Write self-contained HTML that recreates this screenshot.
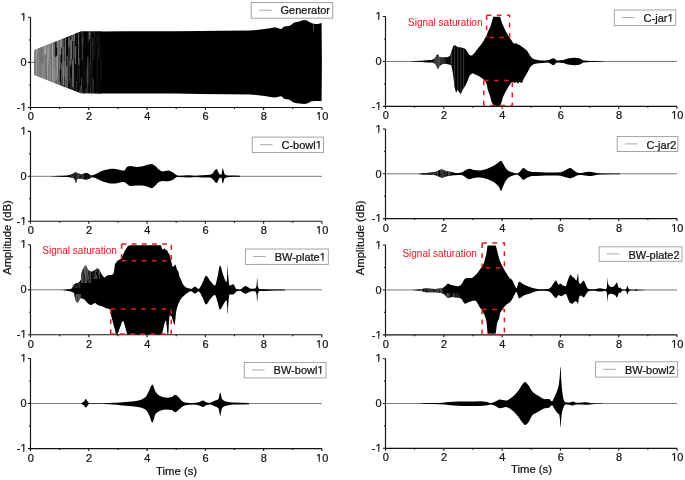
<!DOCTYPE html>
<html><head><meta charset="utf-8"><style>
html,body{margin:0;padding:0;background:#fff;width:685px;height:480px;overflow:hidden}
svg{display:block;will-change:transform}
text{font-family:"Liberation Sans", sans-serif}
</style></head><body>
<svg width="685" height="480" viewBox="0 0 685 480" font-family='"Liberation Sans", sans-serif'>
<defs>
<linearGradient id="gg" gradientUnits="userSpaceOnUse" x1="34" y1="0" x2="100" y2="0">
<stop offset="0" stop-color="#9a9a9a"/><stop offset="0.1" stop-color="#7c7c7c"/><stop offset="0.45" stop-color="#6a6a6a"/>
<stop offset="0.62" stop-color="#4a4a4a"/><stop offset="0.72" stop-color="#1c1c1c"/><stop offset="0.85" stop-color="#080808"/><stop offset="1" stop-color="#000"/>
</linearGradient>
<clipPath id="nofoot"><path clip-rule="evenodd" d="M-10 -10H700V500H-10Z M20.03 19.18H23.22V22H20.03Z M24.23 19.18H26.78V22H24.23Z M20.03 109.38H23.22V112.2H20.03Z M24.23 109.38H26.78V112.2H24.23Z M315.63 118.58H318.82V121.4H315.63Z M319.83 118.58H322.38V121.4H319.83Z M20.03 133.28H23.22V136.1H20.03Z M24.23 133.28H26.78V136.1H24.23Z M20.03 223.13H23.22V225.95H20.03Z M24.23 223.13H26.78V225.95H24.23Z M315.63 232.33H318.82V235.15H315.63Z M319.83 232.33H322.38V235.15H319.83Z M20.03 246.63H23.22V249.45H20.03Z M24.23 246.63H26.78V249.45H24.23Z M20.03 336.63H23.22V339.45H20.03Z M24.23 336.63H26.78V339.45H24.23Z M315.63 345.83H318.82V348.65H315.63Z M319.83 345.83H322.38V348.65H319.83Z M20.03 360.38H23.22V363.2H20.03Z M24.23 360.38H26.78V363.2H24.23Z M20.03 450.48H23.22V453.3H20.03Z M24.23 450.48H26.78V453.3H24.23Z M315.63 459.68H318.82V462.5H315.63Z M319.83 459.68H322.38V462.5H319.83Z M375.03 18.38H378.22V21.2H375.03Z M379.23 18.38H381.78V21.2H379.23Z M375.03 108.28H378.22V111.1H375.03Z M379.23 108.28H381.78V111.1H379.23Z M670.72 117.48H673.92V120.3H670.72Z M674.93 117.48H677.48V120.3H674.93Z M375.03 130.88H378.22V133.7H375.03Z M379.23 130.88H381.78V133.7H379.23Z M375.03 220.48H378.22V223.3H375.03Z M379.23 220.48H381.78V223.3H379.23Z M670.72 229.68H673.92V232.5H670.72Z M674.93 229.68H677.48V232.5H674.93Z M375.03 246.88H378.22V249.7H375.03Z M379.23 246.88H381.78V249.7H379.23Z M375.03 336.78H378.22V339.6H375.03Z M379.23 336.78H381.78V339.6H379.23Z M670.72 345.98H673.92V348.8H670.72Z M674.93 345.98H677.48V348.8H674.93Z M375.03 360.58H378.22V363.4H375.03Z M379.23 360.58H381.78V363.4H379.23Z M375.03 450.18H378.22V453H375.03Z M379.23 450.18H381.78V453H379.23Z M670.72 459.38H673.92V462.2H670.72Z M674.93 459.38H677.48V462.2H674.93Z M315.27 147.18H318.46V150H315.27Z M319.48 147.18H322.02V150H319.48Z M319.28 259.08H322.48V261.9H319.28Z M323.49 259.08H326.03V261.9H323.49Z M316.95 372.48H320.14V375.3H316.95Z M321.16 372.48H323.7V375.3H321.16Z M666.98 20.08H670.17V22.9H666.98Z M671.19 20.08H673.73V22.9H671.19Z"/></clipPath>
</defs>
<rect width="685" height="480" fill="#fff"/>
<path d="M30.5 17.3 V107.5 H321.9" fill="none" stroke="#111" stroke-width="1.15"/>
<path d="M27.9 17.3 H30.5 M29.1 39.85 H30.5 M27.9 62.4 H30.5 M29.1 84.95 H30.5 M27.9 107.5 H30.5 M30.5 107.5 V109.9 M59.64 107.5 V108.9 M88.78 107.5 V109.9 M117.92 107.5 V108.9 M147.06 107.5 V109.9 M176.2 107.5 V108.9 M205.34 107.5 V109.9 M234.48 107.5 V108.9 M263.62 107.5 V109.9 M292.76 107.5 V108.9 M321.9 107.5 V109.9 " fill="none" stroke="#111" stroke-width="1.1"/>
<g font-size="11" fill="#111" stroke="#111" stroke-width="0.22"><text data-one="1" clip-path="url(#nofoot)" x="26.6" y="21" text-anchor="end">1</text><text x="26.6" y="66.1" text-anchor="end">0</text><text data-one="2" clip-path="url(#nofoot)" x="26.6" y="111.2" text-anchor="end">-1</text><text x="30.8" y="120.4" text-anchor="middle">0</text><text x="89.08" y="120.4" text-anchor="middle">2</text><text x="147.36" y="120.4" text-anchor="middle">4</text><text x="205.64" y="120.4" text-anchor="middle">6</text><text x="263.92" y="120.4" text-anchor="middle">8</text><text data-one="3" clip-path="url(#nofoot)" x="322.2" y="120.4" text-anchor="middle">10</text></g>
<path d="M31.1 62.4 H321.9" stroke="#6a6a6a" stroke-width="0.9"/>
<path d="M30.5 131.4 V221.25 H321.9" fill="none" stroke="#111" stroke-width="1.15"/>
<path d="M27.9 131.4 H30.5 M29.1 153.86 H30.5 M27.9 176.32 H30.5 M29.1 198.79 H30.5 M27.9 221.25 H30.5 M30.5 221.25 V223.65 M59.64 221.25 V222.65 M88.78 221.25 V223.65 M117.92 221.25 V222.65 M147.06 221.25 V223.65 M176.2 221.25 V222.65 M205.34 221.25 V223.65 M234.48 221.25 V222.65 M263.62 221.25 V223.65 M292.76 221.25 V222.65 M321.9 221.25 V223.65 " fill="none" stroke="#111" stroke-width="1.1"/>
<g font-size="11" fill="#111" stroke="#111" stroke-width="0.22"><text data-one="4" clip-path="url(#nofoot)" x="26.6" y="135.1" text-anchor="end">1</text><text x="26.6" y="180.02" text-anchor="end">0</text><text data-one="5" clip-path="url(#nofoot)" x="26.6" y="224.95" text-anchor="end">-1</text><text x="30.8" y="234.15" text-anchor="middle">0</text><text x="89.08" y="234.15" text-anchor="middle">2</text><text x="147.36" y="234.15" text-anchor="middle">4</text><text x="205.64" y="234.15" text-anchor="middle">6</text><text x="263.92" y="234.15" text-anchor="middle">8</text><text data-one="6" clip-path="url(#nofoot)" x="322.2" y="234.15" text-anchor="middle">10</text></g>
<path d="M31.1 176.32 H321.9" stroke="#6a6a6a" stroke-width="0.9"/>
<path d="M30.5 244.75 V334.75 H321.9" fill="none" stroke="#111" stroke-width="1.15"/>
<path d="M27.9 244.75 H30.5 M29.1 267.25 H30.5 M27.9 289.75 H30.5 M29.1 312.25 H30.5 M27.9 334.75 H30.5 M30.5 334.75 V337.15 M59.64 334.75 V336.15 M88.78 334.75 V337.15 M117.92 334.75 V336.15 M147.06 334.75 V337.15 M176.2 334.75 V336.15 M205.34 334.75 V337.15 M234.48 334.75 V336.15 M263.62 334.75 V337.15 M292.76 334.75 V336.15 M321.9 334.75 V337.15 " fill="none" stroke="#111" stroke-width="1.1"/>
<g font-size="11" fill="#111" stroke="#111" stroke-width="0.22"><text data-one="7" clip-path="url(#nofoot)" x="26.6" y="248.45" text-anchor="end">1</text><text x="26.6" y="293.45" text-anchor="end">0</text><text data-one="8" clip-path="url(#nofoot)" x="26.6" y="338.45" text-anchor="end">-1</text><text x="30.8" y="347.65" text-anchor="middle">0</text><text x="89.08" y="347.65" text-anchor="middle">2</text><text x="147.36" y="347.65" text-anchor="middle">4</text><text x="205.64" y="347.65" text-anchor="middle">6</text><text x="263.92" y="347.65" text-anchor="middle">8</text><text data-one="9" clip-path="url(#nofoot)" x="322.2" y="347.65" text-anchor="middle">10</text></g>
<path d="M31.1 289.75 H321.9" stroke="#6a6a6a" stroke-width="0.9"/>
<path d="M30.5 358.5 V448.6 H321.9" fill="none" stroke="#111" stroke-width="1.15"/>
<path d="M27.9 358.5 H30.5 M29.1 381.02 H30.5 M27.9 403.55 H30.5 M29.1 426.08 H30.5 M27.9 448.6 H30.5 M30.5 448.6 V451 M59.64 448.6 V450 M88.78 448.6 V451 M117.92 448.6 V450 M147.06 448.6 V451 M176.2 448.6 V450 M205.34 448.6 V451 M234.48 448.6 V450 M263.62 448.6 V451 M292.76 448.6 V450 M321.9 448.6 V451 " fill="none" stroke="#111" stroke-width="1.1"/>
<g font-size="11" fill="#111" stroke="#111" stroke-width="0.22"><text data-one="10" clip-path="url(#nofoot)" x="26.6" y="362.2" text-anchor="end">1</text><text x="26.6" y="407.25" text-anchor="end">0</text><text data-one="11" clip-path="url(#nofoot)" x="26.6" y="452.3" text-anchor="end">-1</text><text x="30.8" y="461.5" text-anchor="middle">0</text><text x="89.08" y="461.5" text-anchor="middle">2</text><text x="147.36" y="461.5" text-anchor="middle">4</text><text x="205.64" y="461.5" text-anchor="middle">6</text><text x="263.92" y="461.5" text-anchor="middle">8</text><text data-one="12" clip-path="url(#nofoot)" x="322.2" y="461.5" text-anchor="middle">10</text></g>
<path d="M31.1 403.55 H321.9" stroke="#6a6a6a" stroke-width="0.9"/>
<path d="M385.5 16.5 V106.4 H677" fill="none" stroke="#111" stroke-width="1.15"/>
<path d="M382.9 16.5 H385.5 M384.1 38.98 H385.5 M382.9 61.45 H385.5 M384.1 83.93 H385.5 M382.9 106.4 H385.5 M385.5 106.4 V108.8 M414.65 106.4 V107.8 M443.8 106.4 V108.8 M472.95 106.4 V107.8 M502.1 106.4 V108.8 M531.25 106.4 V107.8 M560.4 106.4 V108.8 M589.55 106.4 V107.8 M618.7 106.4 V108.8 M647.85 106.4 V107.8 M677 106.4 V108.8 " fill="none" stroke="#111" stroke-width="1.1"/>
<g font-size="11" fill="#111" stroke="#111" stroke-width="0.22"><text data-one="13" clip-path="url(#nofoot)" x="381.6" y="20.2" text-anchor="end">1</text><text x="381.6" y="65.15" text-anchor="end">0</text><text data-one="14" clip-path="url(#nofoot)" x="381.6" y="110.1" text-anchor="end">-1</text><text x="385.8" y="119.3" text-anchor="middle">0</text><text x="444.1" y="119.3" text-anchor="middle">2</text><text x="502.4" y="119.3" text-anchor="middle">4</text><text x="560.7" y="119.3" text-anchor="middle">6</text><text x="619" y="119.3" text-anchor="middle">8</text><text data-one="15" clip-path="url(#nofoot)" x="677.3" y="119.3" text-anchor="middle">10</text></g>
<path d="M386.1 61.45 H677" stroke="#6a6a6a" stroke-width="0.9"/>
<path d="M385.5 129 V218.6 H677" fill="none" stroke="#111" stroke-width="1.15"/>
<path d="M382.9 129 H385.5 M384.1 151.4 H385.5 M382.9 173.8 H385.5 M384.1 196.2 H385.5 M382.9 218.6 H385.5 M385.5 218.6 V221 M414.65 218.6 V220 M443.8 218.6 V221 M472.95 218.6 V220 M502.1 218.6 V221 M531.25 218.6 V220 M560.4 218.6 V221 M589.55 218.6 V220 M618.7 218.6 V221 M647.85 218.6 V220 M677 218.6 V221 " fill="none" stroke="#111" stroke-width="1.1"/>
<g font-size="11" fill="#111" stroke="#111" stroke-width="0.22"><text data-one="16" clip-path="url(#nofoot)" x="381.6" y="132.7" text-anchor="end">1</text><text x="381.6" y="177.5" text-anchor="end">0</text><text data-one="17" clip-path="url(#nofoot)" x="381.6" y="222.3" text-anchor="end">-1</text><text x="385.8" y="231.5" text-anchor="middle">0</text><text x="444.1" y="231.5" text-anchor="middle">2</text><text x="502.4" y="231.5" text-anchor="middle">4</text><text x="560.7" y="231.5" text-anchor="middle">6</text><text x="619" y="231.5" text-anchor="middle">8</text><text data-one="18" clip-path="url(#nofoot)" x="677.3" y="231.5" text-anchor="middle">10</text></g>
<path d="M386.1 173.8 H677" stroke="#6a6a6a" stroke-width="0.9"/>
<path d="M385.5 245 V334.9 H677" fill="none" stroke="#111" stroke-width="1.15"/>
<path d="M382.9 245 H385.5 M384.1 267.48 H385.5 M382.9 289.95 H385.5 M384.1 312.42 H385.5 M382.9 334.9 H385.5 M385.5 334.9 V337.3 M414.65 334.9 V336.3 M443.8 334.9 V337.3 M472.95 334.9 V336.3 M502.1 334.9 V337.3 M531.25 334.9 V336.3 M560.4 334.9 V337.3 M589.55 334.9 V336.3 M618.7 334.9 V337.3 M647.85 334.9 V336.3 M677 334.9 V337.3 " fill="none" stroke="#111" stroke-width="1.1"/>
<g font-size="11" fill="#111" stroke="#111" stroke-width="0.22"><text data-one="19" clip-path="url(#nofoot)" x="381.6" y="248.7" text-anchor="end">1</text><text x="381.6" y="293.65" text-anchor="end">0</text><text data-one="20" clip-path="url(#nofoot)" x="381.6" y="338.6" text-anchor="end">-1</text><text x="385.8" y="347.8" text-anchor="middle">0</text><text x="444.1" y="347.8" text-anchor="middle">2</text><text x="502.4" y="347.8" text-anchor="middle">4</text><text x="560.7" y="347.8" text-anchor="middle">6</text><text x="619" y="347.8" text-anchor="middle">8</text><text data-one="21" clip-path="url(#nofoot)" x="677.3" y="347.8" text-anchor="middle">10</text></g>
<path d="M386.1 289.95 H677" stroke="#6a6a6a" stroke-width="0.9"/>
<path d="M385.5 358.7 V448.3 H677" fill="none" stroke="#111" stroke-width="1.15"/>
<path d="M382.9 358.7 H385.5 M384.1 381.1 H385.5 M382.9 403.5 H385.5 M384.1 425.9 H385.5 M382.9 448.3 H385.5 M385.5 448.3 V450.7 M414.65 448.3 V449.7 M443.8 448.3 V450.7 M472.95 448.3 V449.7 M502.1 448.3 V450.7 M531.25 448.3 V449.7 M560.4 448.3 V450.7 M589.55 448.3 V449.7 M618.7 448.3 V450.7 M647.85 448.3 V449.7 M677 448.3 V450.7 " fill="none" stroke="#111" stroke-width="1.1"/>
<g font-size="11" fill="#111" stroke="#111" stroke-width="0.22"><text data-one="22" clip-path="url(#nofoot)" x="381.6" y="362.4" text-anchor="end">1</text><text x="381.6" y="407.2" text-anchor="end">0</text><text data-one="23" clip-path="url(#nofoot)" x="381.6" y="452" text-anchor="end">-1</text><text x="385.8" y="461.2" text-anchor="middle">0</text><text x="444.1" y="461.2" text-anchor="middle">2</text><text x="502.4" y="461.2" text-anchor="middle">4</text><text x="560.7" y="461.2" text-anchor="middle">6</text><text x="619" y="461.2" text-anchor="middle">8</text><text data-one="24" clip-path="url(#nofoot)" x="677.3" y="461.2" text-anchor="middle">10</text></g>
<path d="M386.1 403.5 H677" stroke="#6a6a6a" stroke-width="0.9"/>
<clipPath id="gc"><path d="M34.3 50.6 C34.43 50.4 34.57 50.2 34.7 50 C50.17 43.87 65.63 37.73 81.1 31.6 C87.4 31.53 93.7 31.44 100 31.4 C116.67 31.3 133.33 31.28 150 31.2 C166.67 31.12 183.33 31.02 200 30.9 C216.67 30.77 233.33 30.76 250 30.4 C254.17 30.31 258.33 29.65 262.5 29.2 C265 28.93 267.5 28.7 270 28.3 C271.63 28.04 273.27 27.2 274.9 27.2 C276.1 27.2 277.3 27.87 278.5 28.2 C279.33 28.43 280.17 28.9 281 28.9 C282.1 28.9 283.2 26.54 284.3 26.4 C285.8 26.21 287.3 26.27 288.8 26.1 C290.7 25.88 292.6 23.26 294.5 22.6 C296.13 22.03 297.77 21.82 299.4 21.4 C301.03 20.98 302.67 20.1 304.3 20.1 C305.13 20.1 305.97 20.35 306.8 20.6 C307.33 20.76 307.87 21.12 308.4 21.4 C309.23 21.84 310.07 22.43 310.9 22.8 C311.43 23.04 311.97 23.28 312.5 23.4 C313.6 23.65 314.7 23.81 315.8 23.9 C316.33 23.95 316.87 24 317.4 24 C318.8 24 320.2 23.33 321.6 23 C321.7 36 321.8 49 321.9 62 L321.9 63 C321.8 75.7 321.7 88.4 321.6 101.1 C320.2 101.07 318.8 101.05 317.4 101 C316.87 100.98 316.33 100.9 315.8 100.9 C314.7 100.9 313.6 101.06 312.5 101.2 C311.97 101.27 311.43 101.35 310.9 101.5 C310.07 101.73 309.23 102.62 308.4 103 C307.87 103.24 307.33 103.48 306.8 103.6 C305.97 103.79 305.13 104 304.3 104 C302.67 104 301.03 103.78 299.4 103.6 C297.77 103.42 296.13 103.21 294.5 102.8 C292.6 102.32 290.7 100.01 288.8 99.5 C287.3 99.1 285.8 99.15 284.3 98.7 C283.2 98.37 282.1 96.2 281 96.2 C280.17 96.2 279.33 96.63 278.5 96.8 C277.3 97.04 276.1 97.4 274.9 97.4 C273.27 97.4 271.63 97.17 270 97 C267.5 96.74 265 96.11 262.5 95.8 C258.33 95.29 254.17 94.72 250 94.6 C233.33 94.12 216.67 94.04 200 93.9 C183.33 93.76 166.67 93.65 150 93.6 C133.33 93.55 116.67 93.56 100 93.5 C93.7 93.48 87.4 93.37 81.1 93.3 C65.63 87.2 50.17 81.1 34.7 75 C34.57 74.8 34.43 74.6 34.3 74.4 Z"/></clipPath>
<path d="M34.3 50.6 C34.43 50.4 34.57 50.2 34.7 50 C50.17 43.87 65.63 37.73 81.1 31.6 C87.4 31.53 93.7 31.44 100 31.4 C116.67 31.3 133.33 31.28 150 31.2 C166.67 31.12 183.33 31.02 200 30.9 C216.67 30.77 233.33 30.76 250 30.4 C254.17 30.31 258.33 29.65 262.5 29.2 C265 28.93 267.5 28.7 270 28.3 C271.63 28.04 273.27 27.2 274.9 27.2 C276.1 27.2 277.3 27.87 278.5 28.2 C279.33 28.43 280.17 28.9 281 28.9 C282.1 28.9 283.2 26.54 284.3 26.4 C285.8 26.21 287.3 26.27 288.8 26.1 C290.7 25.88 292.6 23.26 294.5 22.6 C296.13 22.03 297.77 21.82 299.4 21.4 C301.03 20.98 302.67 20.1 304.3 20.1 C305.13 20.1 305.97 20.35 306.8 20.6 C307.33 20.76 307.87 21.12 308.4 21.4 C309.23 21.84 310.07 22.43 310.9 22.8 C311.43 23.04 311.97 23.28 312.5 23.4 C313.6 23.65 314.7 23.81 315.8 23.9 C316.33 23.95 316.87 24 317.4 24 C318.8 24 320.2 23.33 321.6 23 C321.7 36 321.8 49 321.9 62 L321.9 63 C321.8 75.7 321.7 88.4 321.6 101.1 C320.2 101.07 318.8 101.05 317.4 101 C316.87 100.98 316.33 100.9 315.8 100.9 C314.7 100.9 313.6 101.06 312.5 101.2 C311.97 101.27 311.43 101.35 310.9 101.5 C310.07 101.73 309.23 102.62 308.4 103 C307.87 103.24 307.33 103.48 306.8 103.6 C305.97 103.79 305.13 104 304.3 104 C302.67 104 301.03 103.78 299.4 103.6 C297.77 103.42 296.13 103.21 294.5 102.8 C292.6 102.32 290.7 100.01 288.8 99.5 C287.3 99.1 285.8 99.15 284.3 98.7 C283.2 98.37 282.1 96.2 281 96.2 C280.17 96.2 279.33 96.63 278.5 96.8 C277.3 97.04 276.1 97.4 274.9 97.4 C273.27 97.4 271.63 97.17 270 97 C267.5 96.74 265 96.11 262.5 95.8 C258.33 95.29 254.17 94.72 250 94.6 C233.33 94.12 216.67 94.04 200 93.9 C183.33 93.76 166.67 93.65 150 93.6 C133.33 93.55 116.67 93.56 100 93.5 C93.7 93.48 87.4 93.37 81.1 93.3 C65.63 87.2 50.17 81.1 34.7 75 C34.57 74.8 34.43 74.6 34.3 74.4 Z" fill="#000" />
<g clip-path="url(#gc)"><rect x="34.3" y="15" width="0.85" height="32.22" fill="#c8c8c8"/><rect x="34.3" y="47.17" width="0.85" height="13.2" fill="#b7b7b7"/><rect x="34.3" y="60.32" width="0.85" height="16.51" fill="#9e9e9e"/><rect x="34.3" y="76.77" width="0.85" height="33.28" fill="#acacac"/><rect x="35.1" y="15" width="1.05" height="18" fill="#bababa"/><rect x="35.1" y="32.95" width="1.05" height="30.15" fill="#929292"/><rect x="35.1" y="63.05" width="1.05" height="28.16" fill="#919191"/><rect x="35.1" y="91.16" width="1.05" height="18.89" fill="#b4b4b4"/><rect x="36.1" y="15" width="1.05" height="19.36" fill="#c5c5c5"/><rect x="36.1" y="34.31" width="1.05" height="21.63" fill="#b5b5b5"/><rect x="36.1" y="55.88" width="1.05" height="25.1" fill="#a6a6a6"/><rect x="36.1" y="80.94" width="1.05" height="29.11" fill="#919191"/><rect x="37.1" y="15" width="0.65" height="24.99" fill="#ababab"/><rect x="37.1" y="39.94" width="0.65" height="22.61" fill="#a4a4a4"/><rect x="37.1" y="62.51" width="0.65" height="25.98" fill="#979797"/><rect x="37.1" y="88.44" width="0.65" height="21.61" fill="#919191"/><rect x="37.7" y="15" width="1.05" height="31.05" fill="#c8c8c8"/><rect x="37.7" y="46" width="1.05" height="19.72" fill="#a7a7a7"/><rect x="37.7" y="65.67" width="1.05" height="14.99" fill="#959595"/><rect x="37.7" y="80.61" width="1.05" height="29.44" fill="#8d8d8d"/><rect x="38.7" y="15" width="0.85" height="22.49" fill="#c1c1c1"/><rect x="38.7" y="37.44" width="0.85" height="22.21" fill="#8f8f8f"/><rect x="38.7" y="59.6" width="0.85" height="24.39" fill="#bababa"/><rect x="38.7" y="83.95" width="0.85" height="26.1" fill="#bcbcbc"/><rect x="39.5" y="15" width="1.05" height="21.6" fill="#898989"/><rect x="39.5" y="36.55" width="1.05" height="23.67" fill="#949494"/><rect x="39.5" y="60.17" width="1.05" height="26.58" fill="#8c8c8c"/><rect x="39.5" y="86.7" width="1.05" height="23.35" fill="#919191"/><rect x="40.5" y="15" width="1.05" height="31.72" fill="#a3a3a3"/><rect x="40.5" y="46.67" width="1.05" height="15.33" fill="#909090"/><rect x="40.5" y="61.94" width="1.05" height="16.77" fill="#adadad"/><rect x="40.5" y="78.66" width="1.05" height="31.39" fill="#c8c8c8"/><rect x="41.5" y="15" width="1.05" height="32.37" fill="#959595"/><rect x="41.5" y="47.32" width="1.05" height="9.14" fill="#a7a7a7"/><rect x="41.5" y="56.41" width="1.05" height="22.45" fill="#989898"/><rect x="41.5" y="78.82" width="1.05" height="31.23" fill="#a2a2a2"/><rect x="42.5" y="15" width="0.85" height="32.3" fill="#afafaf"/><rect x="42.5" y="47.25" width="0.85" height="17.85" fill="#878787"/><rect x="42.5" y="65.05" width="0.85" height="19.25" fill="#bababa"/><rect x="42.5" y="84.25" width="0.85" height="25.8" fill="#bcbcbc"/><rect x="43.3" y="15" width="1.05" height="23.36" fill="#909090"/><rect x="43.3" y="38.31" width="1.05" height="23.45" fill="#a1a1a1"/><rect x="43.3" y="61.7" width="1.05" height="20.75" fill="#acacac"/><rect x="43.3" y="82.41" width="1.05" height="27.64" fill="#aaaaaa"/><rect x="44.3" y="15" width="0.85" height="26.87" fill="#9b9b9b"/><rect x="44.3" y="41.82" width="0.85" height="13.36" fill="#c4c4c4"/><rect x="44.3" y="55.13" width="0.85" height="24.25" fill="#a2a2a2"/><rect x="44.3" y="79.33" width="0.85" height="30.72" fill="#a3a3a3"/><rect x="45.1" y="15" width="1.05" height="24.79" fill="#979797"/><rect x="45.1" y="39.74" width="1.05" height="15.68" fill="#b9b9b9"/><rect x="45.1" y="55.37" width="1.05" height="22.31" fill="#818181"/><rect x="45.1" y="77.64" width="1.05" height="32.41" fill="#a4a4a4"/><rect x="46.1" y="15" width="0.55" height="29.18" fill="#848484"/><rect x="46.1" y="44.13" width="0.55" height="14.69" fill="#a2a2a2"/><rect x="46.1" y="58.77" width="0.55" height="27.57" fill="#979797"/><rect x="46.1" y="86.29" width="0.55" height="23.76" fill="#a4a4a4"/><rect x="46.6" y="15" width="0.65" height="26.86" fill="#8b8b8b"/><rect x="46.6" y="41.81" width="0.65" height="24.85" fill="#999999"/><rect x="46.6" y="66.61" width="0.65" height="21.57" fill="#8b8b8b"/><rect x="46.6" y="88.13" width="0.65" height="21.92" fill="#b0b0b0"/><rect x="47.2" y="15" width="0.85" height="24.61" fill="#949494"/><rect x="47.2" y="39.56" width="0.85" height="17.59" fill="#afafaf"/><rect x="47.2" y="57.1" width="0.85" height="28.63" fill="#c0c0c0"/><rect x="47.2" y="85.68" width="0.85" height="24.37" fill="#838383"/><rect x="48" y="15" width="0.85" height="20.32" fill="#b6b6b6"/><rect x="48" y="35.27" width="0.85" height="28.77" fill="#a8a8a8"/><rect x="48" y="63.99" width="0.85" height="26.47" fill="#818181"/><rect x="48" y="90.4" width="0.85" height="19.65" fill="#bababa"/><rect x="48.8" y="15" width="0.65" height="24.7" fill="#919191"/><rect x="48.8" y="39.65" width="0.65" height="17.26" fill="#bdbdbd"/><rect x="48.8" y="56.86" width="0.65" height="31.82" fill="#969696"/><rect x="48.8" y="88.63" width="0.65" height="21.42" fill="#acacac"/><rect x="49.4" y="15" width="0.65" height="17.49" fill="#a6a6a6"/><rect x="49.4" y="32.44" width="0.65" height="31.06" fill="#a2a2a2"/><rect x="49.4" y="63.45" width="0.65" height="20.04" fill="#bababa"/><rect x="49.4" y="83.45" width="0.65" height="26.6" fill="#9f9f9f"/><rect x="50" y="15" width="0.55" height="25.48" fill="#b5b5b5"/><rect x="50" y="40.43" width="0.55" height="28.56" fill="#868686"/><rect x="50" y="68.94" width="0.55" height="14.05" fill="#8c8c8c"/><rect x="50" y="82.94" width="0.55" height="27.11" fill="#a1a1a1"/><rect x="50.5" y="15" width="1.05" height="30.4" fill="#b6b6b6"/><rect x="50.5" y="45.35" width="1.05" height="9.68" fill="#b0b0b0"/><rect x="50.5" y="54.97" width="1.05" height="32.91" fill="#b1b1b1"/><rect x="50.5" y="87.84" width="1.05" height="22.21" fill="#808080"/><rect x="51.5" y="15" width="0.55" height="31.01" fill="#acacac"/><rect x="51.5" y="45.96" width="0.55" height="20.51" fill="#7f7f7f"/><rect x="51.5" y="66.42" width="0.55" height="19.36" fill="#7e7e7e"/><rect x="51.5" y="85.74" width="0.55" height="24.31" fill="#a5a5a5"/><rect x="52" y="15" width="1.05" height="29.6" fill="#868686"/><rect x="52" y="44.55" width="1.05" height="11.2" fill="#ababab"/><rect x="52" y="55.7" width="1.05" height="29.32" fill="#9c9c9c"/><rect x="52" y="84.96" width="1.05" height="25.09" fill="#b4b4b4"/><rect x="53" y="15" width="0.65" height="28.13" fill="#949494"/><rect x="53" y="43.08" width="0.65" height="18.2" fill="#a4a4a4"/><rect x="53" y="61.24" width="0.65" height="23.35" fill="#b5b5b5"/><rect x="53" y="84.53" width="0.65" height="25.52" fill="#9a9a9a"/><rect x="53.6" y="15" width="1.05" height="19.24" fill="#777777"/><rect x="53.6" y="34.19" width="1.05" height="21.8" fill="#777777"/><rect x="53.6" y="55.95" width="1.05" height="27.18" fill="#a9a9a9"/><rect x="53.6" y="83.07" width="1.05" height="26.98" fill="#7d7d7d"/><rect x="54.6" y="15" width="0.85" height="19.34" fill="#808080"/><rect x="54.6" y="34.29" width="0.85" height="33.89" fill="#8c8c8c"/><rect x="54.6" y="68.13" width="0.85" height="23.41" fill="#b6b6b6"/><rect x="54.6" y="91.48" width="0.85" height="18.57" fill="#7c7c7c"/><rect x="55.4" y="15" width="1.05" height="22.48" fill="#0d0d0d"/><rect x="55.4" y="37.43" width="1.05" height="19.76" fill="#080808"/><rect x="55.4" y="57.13" width="1.05" height="24.01" fill="#9b9b9b"/><rect x="55.4" y="81.1" width="1.05" height="28.95" fill="#747474"/><rect x="56.4" y="15" width="0.65" height="32.6" fill="#717171"/><rect x="56.4" y="47.55" width="0.65" height="8.18" fill="#0a0a0a"/><rect x="56.4" y="55.68" width="0.65" height="24.62" fill="#aeaeae"/><rect x="56.4" y="80.25" width="0.65" height="29.8" fill="#808080"/><rect x="57" y="15" width="1.05" height="28.26" fill="#9d9d9d"/><rect x="57" y="43.21" width="1.05" height="12.27" fill="#727272"/><rect x="57" y="55.43" width="1.05" height="21.54" fill="#999999"/><rect x="57" y="76.92" width="1.05" height="33.13" fill="#737373"/><rect x="58" y="15" width="0.55" height="21.28" fill="#b1b1b1"/><rect x="58" y="36.23" width="0.55" height="19.77" fill="#acacac"/><rect x="58" y="55.95" width="0.55" height="20.29" fill="#6f6f6f"/><rect x="58" y="76.18" width="0.55" height="33.87" fill="#adadad"/><rect x="58.5" y="15" width="0.85" height="17.86" fill="#808080"/><rect x="58.5" y="32.81" width="0.85" height="24.47" fill="#7f7f7f"/><rect x="58.5" y="57.23" width="0.85" height="23.81" fill="#777777"/><rect x="58.5" y="80.99" width="0.85" height="29.06" fill="#6c6c6c"/><rect x="59.3" y="15" width="0.55" height="17.34" fill="#8e8e8e"/><rect x="59.3" y="32.29" width="0.55" height="29.85" fill="#898989"/><rect x="59.3" y="62.09" width="0.55" height="29.61" fill="#979797"/><rect x="59.3" y="91.65" width="0.55" height="18.4" fill="#909090"/><rect x="59.8" y="15" width="0.85" height="28.05" fill="#a3a3a3"/><rect x="59.8" y="43" width="0.85" height="26.77" fill="#959595"/><rect x="59.8" y="69.72" width="0.85" height="11.81" fill="#030303"/><rect x="59.8" y="81.48" width="0.85" height="28.57" fill="#6e6e6e"/><rect x="60.6" y="15" width="0.85" height="23.94" fill="#828282"/><rect x="60.6" y="38.89" width="0.85" height="16.04" fill="#ababab"/><rect x="60.6" y="54.89" width="0.85" height="31.81" fill="#040404"/><rect x="60.6" y="86.64" width="0.85" height="23.41" fill="#090909"/><rect x="61.4" y="15" width="0.85" height="32.61" fill="#a9a9a9"/><rect x="61.4" y="47.56" width="0.85" height="15.24" fill="#090909"/><rect x="61.4" y="62.75" width="0.85" height="17.21" fill="#878787"/><rect x="61.4" y="79.91" width="0.85" height="30.14" fill="#747474"/><rect x="62.2" y="15" width="0.55" height="18.5" fill="#8d8d8d"/><rect x="62.2" y="33.45" width="0.55" height="33.67" fill="#797979"/><rect x="62.2" y="67.07" width="0.55" height="11.28" fill="#6a6a6a"/><rect x="62.2" y="78.3" width="0.55" height="31.75" fill="#161616"/><rect x="62.7" y="15" width="1.05" height="29.28" fill="#777777"/><rect x="62.7" y="44.23" width="1.05" height="21.35" fill="#6e6e6e"/><rect x="62.7" y="65.53" width="1.05" height="18.43" fill="#959595"/><rect x="62.7" y="83.91" width="1.05" height="26.14" fill="#818181"/><rect x="63.7" y="15" width="0.65" height="31.61" fill="#111111"/><rect x="63.7" y="46.56" width="0.65" height="19.54" fill="#999999"/><rect x="63.7" y="66.05" width="0.65" height="19.1" fill="#a4a4a4"/><rect x="63.7" y="85.1" width="0.65" height="24.95" fill="#0f0f0f"/><rect x="64.3" y="15" width="0.55" height="23.08" fill="#626262"/><rect x="64.3" y="38.03" width="0.55" height="23.25" fill="#0b0b0b"/><rect x="64.3" y="61.22" width="0.55" height="15.64" fill="#656565"/><rect x="64.3" y="76.81" width="0.55" height="33.24" fill="#0d0d0d"/><rect x="64.8" y="15" width="1.05" height="21.09" fill="#121212"/><rect x="64.8" y="36.04" width="1.05" height="19.21" fill="#a4a4a4"/><rect x="64.8" y="55.19" width="1.05" height="25.11" fill="#7a7a7a"/><rect x="64.8" y="80.25" width="1.05" height="29.8" fill="#8f8f8f"/><rect x="65.8" y="15" width="0.65" height="18.29" fill="#0e0e0e"/><rect x="65.8" y="33.24" width="0.65" height="23.17" fill="#060606"/><rect x="65.8" y="56.36" width="0.65" height="23.75" fill="#8d8d8d"/><rect x="65.8" y="80.06" width="0.65" height="29.99" fill="#0c0c0c"/><rect x="66.4" y="15" width="1.05" height="24.5" fill="#020202"/><rect x="66.4" y="39.45" width="1.05" height="26.87" fill="#010101"/><rect x="66.4" y="66.27" width="1.05" height="25.67" fill="#808080"/><rect x="66.4" y="91.89" width="1.05" height="18.16" fill="#a2a2a2"/><rect x="67.4" y="15" width="0.65" height="18.24" fill="#0f0f0f"/><rect x="67.4" y="33.19" width="0.65" height="22.3" fill="#020202"/><rect x="67.4" y="55.44" width="0.65" height="32.56" fill="#747474"/><rect x="67.4" y="87.96" width="0.65" height="22.09" fill="#989898"/><rect x="68" y="15" width="0.65" height="17.11" fill="#080808"/><rect x="68" y="32.06" width="0.65" height="29.86" fill="#707070"/><rect x="68" y="61.87" width="0.65" height="21.4" fill="#5a5a5a"/><rect x="68" y="83.21" width="0.65" height="26.84" fill="#171717"/><rect x="68.6" y="15" width="0.55" height="31.48" fill="#747474"/><rect x="68.6" y="46.43" width="0.55" height="12.26" fill="#0a0a0a"/><rect x="68.6" y="58.64" width="0.55" height="23.37" fill="#020202"/><rect x="68.6" y="81.96" width="0.55" height="28.09" fill="#171717"/><rect x="69.1" y="15" width="0.65" height="32.59" fill="#8d8d8d"/><rect x="69.1" y="47.54" width="0.65" height="13.49" fill="#131313"/><rect x="69.1" y="60.98" width="0.65" height="20.12" fill="#737373"/><rect x="69.1" y="81.05" width="0.65" height="29" fill="#020202"/><rect x="69.7" y="15" width="1.05" height="24.26" fill="#171717"/><rect x="69.7" y="39.21" width="1.05" height="26.88" fill="#5f5f5f"/><rect x="69.7" y="66.04" width="1.05" height="20.32" fill="#121212"/><rect x="69.7" y="86.31" width="1.05" height="23.74" fill="#101010"/><rect x="70.7" y="15" width="0.85" height="24.78" fill="#0c0c0c"/><rect x="70.7" y="39.73" width="0.85" height="25.02" fill="#8c8c8c"/><rect x="70.7" y="64.7" width="0.85" height="13.26" fill="#121212"/><rect x="70.7" y="77.92" width="0.85" height="32.13" fill="#727272"/><rect x="71.5" y="15" width="0.65" height="18.5" fill="#0e0e0e"/><rect x="71.5" y="33.45" width="0.65" height="26.07" fill="#909090"/><rect x="71.5" y="59.47" width="0.65" height="18.04" fill="#0d0d0d"/><rect x="71.5" y="77.46" width="0.65" height="32.59" fill="#010101"/><rect x="72.1" y="15" width="0.85" height="26.24" fill="#767676"/><rect x="72.1" y="41.19" width="0.85" height="18.62" fill="#161616"/><rect x="72.1" y="59.76" width="0.85" height="27.28" fill="#6c6c6c"/><rect x="72.1" y="86.99" width="0.85" height="23.06" fill="#141414"/><rect x="72.9" y="15" width="0.55" height="19.09" fill="#878787"/><rect x="72.9" y="34.04" width="0.55" height="26.82" fill="#171717"/><rect x="72.9" y="60.8" width="0.55" height="27.47" fill="#909090"/><rect x="72.9" y="88.22" width="0.55" height="21.83" fill="#131313"/><rect x="73.4" y="15" width="0.65" height="19.52" fill="#909090"/><rect x="73.4" y="34.47" width="0.65" height="27.94" fill="#7b7b7b"/><rect x="73.4" y="62.36" width="0.65" height="24.61" fill="#6e6e6e"/><rect x="73.4" y="86.91" width="0.65" height="23.14" fill="#515151"/><rect x="74" y="15" width="0.65" height="26.16" fill="#909090"/><rect x="74" y="41.11" width="0.65" height="13.54" fill="#131313"/><rect x="74" y="54.6" width="0.65" height="32.89" fill="#171717"/><rect x="74" y="87.44" width="0.65" height="22.61" fill="#131313"/><rect x="74.6" y="15" width="0.55" height="17.22" fill="#8e8e8e"/><rect x="74.6" y="32.17" width="0.55" height="26.71" fill="#898989"/><rect x="74.6" y="58.82" width="0.55" height="24.6" fill="#181818"/><rect x="74.6" y="83.37" width="0.55" height="26.68" fill="#000000"/><rect x="75.1" y="15" width="1.05" height="31.21" fill="#090909"/><rect x="75.1" y="46.16" width="1.05" height="18.25" fill="#6c6c6c"/><rect x="75.1" y="64.35" width="1.05" height="12.99" fill="#090909"/><rect x="75.1" y="77.3" width="1.05" height="32.75" fill="#151515"/><rect x="76.1" y="15" width="0.55" height="20.33" fill="#050505"/><rect x="76.1" y="35.28" width="0.55" height="34.28" fill="#171717"/><rect x="76.1" y="69.52" width="0.55" height="11.52" fill="#050505"/><rect x="76.1" y="80.99" width="0.55" height="29.06" fill="#636363"/><rect x="76.6" y="15" width="0.65" height="31.8" fill="#111111"/><rect x="76.6" y="46.75" width="0.65" height="8.17" fill="#111111"/><rect x="76.6" y="54.87" width="0.65" height="21.56" fill="#010101"/><rect x="76.6" y="76.38" width="0.65" height="33.67" fill="#101010"/><rect x="77.2" y="15" width="1.05" height="17.56" fill="#040404"/><rect x="77.2" y="32.51" width="1.05" height="32.17" fill="#080808"/><rect x="77.2" y="64.63" width="1.05" height="17.48" fill="#181818"/><rect x="77.2" y="82.06" width="1.05" height="27.99" fill="#141414"/><rect x="78.2" y="15" width="1.05" height="18.45" fill="#080808"/><rect x="78.2" y="33.4" width="1.05" height="31.93" fill="#737373"/><rect x="78.2" y="65.28" width="1.05" height="13.9" fill="#0f0f0f"/><rect x="78.2" y="79.13" width="1.05" height="30.92" fill="#0b0b0b"/><rect x="79.2" y="15" width="0.55" height="21.16" fill="#171717"/><rect x="79.2" y="36.11" width="0.55" height="29.89" fill="#111111"/><rect x="79.2" y="65.96" width="0.55" height="24.47" fill="#000000"/><rect x="79.2" y="90.38" width="0.55" height="19.67" fill="#717171"/><rect x="79.7" y="15" width="0.55" height="17.44" fill="#7e7e7e"/><rect x="79.7" y="32.39" width="0.55" height="25.4" fill="#0a0a0a"/><rect x="79.7" y="57.74" width="0.55" height="25.91" fill="#5d5d5d"/><rect x="79.7" y="83.6" width="0.55" height="26.45" fill="#484848"/><rect x="80.2" y="15" width="0.85" height="30.21" fill="#090909"/><rect x="80.2" y="45.16" width="0.85" height="21.25" fill="#040404"/><rect x="80.2" y="66.36" width="0.85" height="19.4" fill="#010101"/><rect x="80.2" y="85.72" width="0.85" height="24.33" fill="#3c3c3c"/><rect x="81" y="15" width="0.85" height="19.62" fill="#3c3c3c"/><rect x="81" y="34.57" width="0.85" height="26.3" fill="#181818"/><rect x="81" y="60.82" width="0.85" height="16.91" fill="#030303"/><rect x="81" y="77.68" width="0.85" height="32.37" fill="#575757"/><rect x="81.8" y="15" width="0.65" height="29.02" fill="#3d3d3d"/><rect x="81.8" y="43.97" width="0.65" height="23.63" fill="#090909"/><rect x="81.8" y="67.55" width="0.65" height="19.13" fill="#060606"/><rect x="81.8" y="86.63" width="0.65" height="23.42" fill="#161616"/><rect x="82.4" y="15" width="0.65" height="22.27" fill="#141414"/><rect x="82.4" y="37.22" width="0.65" height="23.17" fill="#616161"/><rect x="82.4" y="60.34" width="0.65" height="31.59" fill="#141414"/><rect x="82.4" y="91.88" width="0.65" height="18.17" fill="#6f6f6f"/><rect x="83" y="15" width="0.55" height="31.08" fill="#5d5d5d"/><rect x="83" y="46.03" width="0.55" height="11.75" fill="#0c0c0c"/><rect x="83" y="57.73" width="0.55" height="19.13" fill="#131313"/><rect x="83" y="76.81" width="0.55" height="33.24" fill="#0f0f0f"/><rect x="83.5" y="15" width="0.85" height="20.53" fill="#0e0e0e"/><rect x="83.5" y="35.48" width="0.85" height="24.47" fill="#000000"/><rect x="83.5" y="59.9" width="0.85" height="18.41" fill="#040404"/><rect x="83.5" y="78.26" width="0.85" height="31.79" fill="#131313"/><rect x="84.3" y="15" width="1.05" height="18.06" fill="#020202"/><rect x="84.3" y="33.01" width="1.05" height="22.66" fill="#0a0a0a"/><rect x="84.3" y="55.62" width="1.05" height="26.75" fill="#171717"/><rect x="84.3" y="82.32" width="1.05" height="27.73" fill="#080808"/><rect x="85.3" y="15" width="1.05" height="17.34" fill="#0a0a0a"/><rect x="85.3" y="32.29" width="1.05" height="34.03" fill="#030303"/><rect x="85.3" y="66.27" width="1.05" height="22.62" fill="#0e0e0e"/><rect x="85.3" y="88.84" width="1.05" height="21.21" fill="#474747"/><rect x="86.3" y="15" width="0.65" height="17.29" fill="#0f0f0f"/><rect x="86.3" y="32.24" width="0.65" height="30.64" fill="#030303"/><rect x="86.3" y="62.82" width="0.65" height="23.48" fill="#171717"/><rect x="86.3" y="86.25" width="0.65" height="23.8" fill="#141414"/><rect x="86.9" y="15" width="0.65" height="21.88" fill="#0f0f0f"/><rect x="86.9" y="36.83" width="0.65" height="30.62" fill="#111111"/><rect x="86.9" y="67.4" width="0.65" height="9.35" fill="#5a5a5a"/><rect x="86.9" y="76.7" width="0.65" height="33.35" fill="#575757"/><rect x="87.5" y="15" width="1.05" height="26.89" fill="#171717"/><rect x="87.5" y="41.84" width="1.05" height="15.35" fill="#030303"/><rect x="87.5" y="57.14" width="1.05" height="26.48" fill="#6d6d6d"/><rect x="87.5" y="83.57" width="1.05" height="26.48" fill="#363636"/><rect x="88.5" y="15" width="0.55" height="27.74" fill="#464646"/><rect x="88.5" y="42.69" width="0.55" height="16.55" fill="#070707"/><rect x="88.5" y="59.19" width="0.55" height="23.1" fill="#090909"/><rect x="88.5" y="82.24" width="0.55" height="27.81" fill="#000000"/><rect x="89" y="15" width="1.05" height="24.49" fill="#5e5e5e"/><rect x="89" y="39.44" width="1.05" height="21.75" fill="#010101"/><rect x="89" y="61.15" width="1.05" height="24.8" fill="#141414"/><rect x="89" y="85.9" width="1.05" height="24.15" fill="#010101"/><rect x="90" y="15" width="0.65" height="18.37" fill="#0c0c0c"/><rect x="90" y="33.32" width="0.65" height="32.47" fill="#3d3d3d"/><rect x="90" y="65.74" width="0.65" height="22.76" fill="#2c2c2c"/><rect x="90" y="88.44" width="0.65" height="21.61" fill="#686868"/><rect x="90.6" y="15" width="0.55" height="20.15" fill="#646464"/><rect x="90.6" y="35.1" width="0.55" height="34.66" fill="#2d2d2d"/><rect x="90.6" y="69.71" width="0.55" height="14.21" fill="#080808"/><rect x="90.6" y="83.87" width="0.55" height="26.18" fill="#161616"/><rect x="91.1" y="15" width="0.85" height="31.53" fill="#0e0e0e"/><rect x="91.1" y="46.48" width="0.85" height="14.87" fill="#090909"/><rect x="91.1" y="61.3" width="0.85" height="18.81" fill="#0f0f0f"/><rect x="91.1" y="80.07" width="0.85" height="29.98" fill="#090909"/><rect x="91.9" y="15" width="0.85" height="18.89" fill="#373737"/><rect x="91.9" y="33.84" width="0.85" height="28.7" fill="#161616"/><rect x="91.9" y="62.49" width="0.85" height="23.74" fill="#252525"/><rect x="91.9" y="86.18" width="0.85" height="23.87" fill="#131313"/><rect x="92.7" y="15" width="0.85" height="23.06" fill="#050505"/><rect x="92.7" y="38.01" width="0.85" height="21.94" fill="#454545"/><rect x="92.7" y="59.9" width="0.85" height="18.49" fill="#070707"/><rect x="92.7" y="78.34" width="0.85" height="31.71" fill="#5e5e5e"/><rect x="93.5" y="15" width="0.85" height="28.78" fill="#0a0a0a"/><rect x="93.5" y="43.73" width="0.85" height="22.28" fill="#0c0c0c"/><rect x="93.5" y="65.95" width="0.85" height="13.64" fill="#010101"/><rect x="93.5" y="79.55" width="0.85" height="30.5" fill="#0d0d0d"/><rect x="94.3" y="15" width="0.65" height="23.66" fill="#2c2c2c"/><rect x="94.3" y="38.61" width="0.65" height="20.26" fill="#141414"/><rect x="94.3" y="58.82" width="0.65" height="19.37" fill="#010101"/><rect x="94.3" y="78.14" width="0.65" height="31.91" fill="#060606"/><rect x="94.9" y="15" width="0.85" height="32.52" fill="#0e0e0e"/><rect x="94.9" y="47.47" width="0.85" height="7.47" fill="#0c0c0c"/><rect x="94.9" y="54.9" width="0.85" height="34.29" fill="#010101"/><rect x="94.9" y="89.13" width="0.85" height="20.92" fill="#030303"/><rect x="95.7" y="15" width="0.55" height="17.25" fill="#0f0f0f"/><rect x="95.7" y="32.2" width="0.55" height="30.67" fill="#141414"/><rect x="95.7" y="62.81" width="0.55" height="28.29" fill="#070707"/><rect x="95.7" y="91.05" width="0.55" height="19" fill="#0e0e0e"/><rect x="96.2" y="15" width="1.05" height="28.5" fill="#121212"/><rect x="96.2" y="43.45" width="1.05" height="10.71" fill="#020202"/><rect x="96.2" y="54.1" width="1.05" height="35.46" fill="#080808"/><rect x="96.2" y="89.51" width="1.05" height="20.54" fill="#151515"/><rect x="97.2" y="15" width="0.55" height="21.31" fill="#060606"/><rect x="97.2" y="36.26" width="0.55" height="26.65" fill="#2f2f2f"/><rect x="97.2" y="62.86" width="0.55" height="20.17" fill="#121212"/><rect x="97.2" y="82.98" width="0.55" height="27.07" fill="#050505"/><rect x="97.7" y="15" width="0.65" height="32.17" fill="#050505"/><rect x="97.7" y="47.12" width="0.65" height="18.87" fill="#111111"/><rect x="97.7" y="65.94" width="0.65" height="15.34" fill="#2c2c2c"/><rect x="97.7" y="81.23" width="0.65" height="28.82" fill="#1e1e1e"/><rect x="98.3" y="15" width="0.55" height="30.77" fill="#050505"/><rect x="98.3" y="45.72" width="0.55" height="15.33" fill="#161616"/><rect x="98.3" y="61" width="0.55" height="26.65" fill="#020202"/><rect x="98.3" y="87.59" width="0.55" height="22.46" fill="#030303"/><rect x="98.8" y="15" width="0.55" height="17.54" fill="#010101"/><rect x="98.8" y="32.49" width="0.55" height="23.77" fill="#2e2e2e"/><rect x="98.8" y="56.21" width="0.55" height="30.13" fill="#000000"/><rect x="98.8" y="86.3" width="0.55" height="23.75" fill="#151515"/><rect x="99.3" y="15" width="1.05" height="18.76" fill="#000000"/><rect x="99.3" y="33.71" width="1.05" height="23.63" fill="#141414"/><rect x="99.3" y="57.29" width="1.05" height="20.55" fill="#020202"/><rect x="99.3" y="77.79" width="1.05" height="32.26" fill="#000000"/><rect x="100.3" y="15" width="0.65" height="21.76" fill="#000000"/><rect x="100.3" y="36.71" width="0.65" height="22.72" fill="#000000"/><rect x="100.3" y="59.38" width="0.65" height="20.84" fill="#232323"/><rect x="100.3" y="80.18" width="0.65" height="29.87" fill="#070707"/><rect x="100.9" y="15" width="0.55" height="29.67" fill="#010101"/><rect x="100.9" y="44.62" width="0.55" height="9.93" fill="#141414"/><rect x="100.9" y="54.5" width="0.55" height="29.85" fill="#0a0a0a"/><rect x="100.9" y="84.3" width="0.55" height="25.75" fill="#121212"/></g>
<rect x="313" y="24.2" width="0.7" height="7" fill="#666"/>
<path d="M50 176.3 C53.33 176.15 56.67 176.01 60 175.85 C62.23 175.74 64.47 175.7 66.7 175.5 C68.63 175.33 70.57 174.65 72.5 173.9 C73.17 173.64 73.83 172.99 74.5 172.8 C75 172.66 75.5 172.5 76 172.5 C76.43 172.5 76.87 173.06 77.3 173.2 C78.03 173.44 78.77 173.53 79.5 173.7 C80.3 173.89 81.1 174.3 81.9 174.3 C83.27 174.3 84.63 173.1 86 173.1 C86.97 173.1 87.93 173.55 88.9 173.9 C89.87 174.25 90.83 175.4 91.8 175.4 C92.97 175.4 94.13 174.77 95.3 174.3 C96.67 173.75 98.03 172.52 99.4 171.9 C100.93 171.2 102.47 170.54 104 170.2 C107.13 169.5 110.27 168.8 113.4 168.8 C114.93 168.8 116.47 169.31 118 169.6 C119.97 169.97 121.93 170.8 123.9 170.8 C125.03 170.8 126.17 167.08 127.3 166.7 C128.3 166.36 129.3 166.1 130.3 166.1 C132.43 166.1 134.57 167 136.7 167 C138.63 167 140.57 166.63 142.5 166.3 C144.47 165.97 146.43 165.04 148.4 164.6 C149.47 164.36 150.53 164 151.6 164 C152.87 164 154.13 165.19 155.4 166.1 C156.57 166.93 157.73 168.81 158.9 169.6 C160.07 170.39 161.23 171.4 162.4 171.4 C164.33 171.4 166.27 170.5 168.2 170.5 C169.77 170.5 171.33 171.64 172.9 172.5 C174.07 173.14 175.23 174.61 176.4 175.1 C177.17 175.42 177.93 175.8 178.7 175.8 C182.2 175.8 185.7 175.3 189.2 175.3 C191.13 175.3 193.07 175.7 195 175.7 C197.57 175.7 200.13 175.37 202.7 175.2 C205.1 175.04 207.5 175.03 209.9 174.7 C210.77 174.58 211.63 173.98 212.5 173.4 C213.83 172.51 215.17 169 216.5 169 C217.5 169 218.5 173.77 219.5 174.2 C220.13 174.47 220.77 174.7 221.4 174.7 C221.7 174.7 222 171.34 222.3 170 C222.47 169.25 222.63 168 222.8 168 C223 168 223.2 169.35 223.4 170 C223.87 171.52 224.33 174.16 224.8 174.4 C226.53 175.29 228.27 175.53 230 175.6 C233.33 175.73 236.67 175.73 240 175.8 L240 176.8 C236.67 176.83 233.33 176.83 230 176.9 C228.27 176.94 226.53 177.15 224.8 177.9 C224.33 178.1 223.87 180.75 223.4 182 C223.2 182.53 223 183.5 222.8 183.5 C222.63 183.5 222.47 182.61 222.3 182 C222 180.91 221.7 177.6 221.4 177.6 C220.77 177.6 220.13 177.88 219.5 178.2 C218.5 178.7 217.5 183 216.5 183 C215.17 183 213.83 180.05 212.5 179.1 C211.63 178.48 210.77 177.65 209.9 177.6 C207.5 177.45 205.1 177.49 202.7 177.4 C200.13 177.31 197.57 177 195 177 C193.07 177 191.13 177.4 189.2 177.4 C185.7 177.4 182.2 176.9 178.7 176.9 C177.93 176.9 177.17 177.04 176.4 177.2 C175.23 177.45 174.07 179.27 172.9 179.8 C171.33 180.51 169.77 181.3 168.2 181.3 C166.27 181.3 164.33 180.9 162.4 180.9 C161.23 180.9 160.07 181.51 158.9 182.1 C157.73 182.69 156.57 184.41 155.4 185.4 C154.13 186.47 152.87 188.3 151.6 188.3 C150.53 188.3 149.47 187.43 148.4 187.1 C146.43 186.49 144.47 185.6 142.5 185.6 C140.57 185.6 138.63 185.6 136.7 185.6 C134.57 185.6 132.43 186 130.3 186 C129.3 186 128.3 184.81 127.3 184.2 C126.17 183.51 125.03 182.1 123.9 182.1 C121.93 182.1 119.97 182.72 118 183 C116.47 183.21 114.93 183.6 113.4 183.6 C110.27 183.6 107.13 182.71 104 181.9 C102.47 181.5 100.93 180.77 99.4 180.1 C98.03 179.51 96.67 178.56 95.3 178.1 C94.13 177.71 92.97 177.2 91.8 177.2 C90.83 177.2 89.87 178.74 88.9 179 C87.93 179.26 86.97 179.5 86 179.5 C84.63 179.5 83.27 179.23 81.9 179 C81.1 178.86 80.3 178.4 79.5 178.4 C78.77 178.4 78.03 178.6 77.3 179 C76.87 179.23 76.43 183 76 183 C75.5 183 75 179.51 74.5 179 C73.83 178.33 73.17 177.95 72.5 177.8 C70.57 177.36 68.63 177.23 66.7 177.1 C64.47 176.95 62.23 176.91 60 176.8 C56.67 176.64 53.33 176.47 50 176.3 Z" fill="#000" />
<clipPath id="cb1"><path d="M50 176.3 C53.33 176.15 56.67 176.01 60 175.85 C62.23 175.74 64.47 175.7 66.7 175.5 C68.63 175.33 70.57 174.65 72.5 173.9 C73.17 173.64 73.83 172.99 74.5 172.8 C75 172.66 75.5 172.5 76 172.5 C76.43 172.5 76.87 173.06 77.3 173.2 C78.03 173.44 78.77 173.53 79.5 173.7 C80.3 173.89 81.1 174.3 81.9 174.3 C83.27 174.3 84.63 173.1 86 173.1 C86.97 173.1 87.93 173.55 88.9 173.9 C89.87 174.25 90.83 175.4 91.8 175.4 C92.97 175.4 94.13 174.77 95.3 174.3 C96.67 173.75 98.03 172.52 99.4 171.9 C100.93 171.2 102.47 170.54 104 170.2 C107.13 169.5 110.27 168.8 113.4 168.8 C114.93 168.8 116.47 169.31 118 169.6 C119.97 169.97 121.93 170.8 123.9 170.8 C125.03 170.8 126.17 167.08 127.3 166.7 C128.3 166.36 129.3 166.1 130.3 166.1 C132.43 166.1 134.57 167 136.7 167 C138.63 167 140.57 166.63 142.5 166.3 C144.47 165.97 146.43 165.04 148.4 164.6 C149.47 164.36 150.53 164 151.6 164 C152.87 164 154.13 165.19 155.4 166.1 C156.57 166.93 157.73 168.81 158.9 169.6 C160.07 170.39 161.23 171.4 162.4 171.4 C164.33 171.4 166.27 170.5 168.2 170.5 C169.77 170.5 171.33 171.64 172.9 172.5 C174.07 173.14 175.23 174.61 176.4 175.1 C177.17 175.42 177.93 175.8 178.7 175.8 C182.2 175.8 185.7 175.3 189.2 175.3 C191.13 175.3 193.07 175.7 195 175.7 C197.57 175.7 200.13 175.37 202.7 175.2 C205.1 175.04 207.5 175.03 209.9 174.7 C210.77 174.58 211.63 173.98 212.5 173.4 C213.83 172.51 215.17 169 216.5 169 C217.5 169 218.5 173.77 219.5 174.2 C220.13 174.47 220.77 174.7 221.4 174.7 C221.7 174.7 222 171.34 222.3 170 C222.47 169.25 222.63 168 222.8 168 C223 168 223.2 169.35 223.4 170 C223.87 171.52 224.33 174.16 224.8 174.4 C226.53 175.29 228.27 175.53 230 175.6 C233.33 175.73 236.67 175.73 240 175.8 L240 176.8 C236.67 176.83 233.33 176.83 230 176.9 C228.27 176.94 226.53 177.15 224.8 177.9 C224.33 178.1 223.87 180.75 223.4 182 C223.2 182.53 223 183.5 222.8 183.5 C222.63 183.5 222.47 182.61 222.3 182 C222 180.91 221.7 177.6 221.4 177.6 C220.77 177.6 220.13 177.88 219.5 178.2 C218.5 178.7 217.5 183 216.5 183 C215.17 183 213.83 180.05 212.5 179.1 C211.63 178.48 210.77 177.65 209.9 177.6 C207.5 177.45 205.1 177.49 202.7 177.4 C200.13 177.31 197.57 177 195 177 C193.07 177 191.13 177.4 189.2 177.4 C185.7 177.4 182.2 176.9 178.7 176.9 C177.93 176.9 177.17 177.04 176.4 177.2 C175.23 177.45 174.07 179.27 172.9 179.8 C171.33 180.51 169.77 181.3 168.2 181.3 C166.27 181.3 164.33 180.9 162.4 180.9 C161.23 180.9 160.07 181.51 158.9 182.1 C157.73 182.69 156.57 184.41 155.4 185.4 C154.13 186.47 152.87 188.3 151.6 188.3 C150.53 188.3 149.47 187.43 148.4 187.1 C146.43 186.49 144.47 185.6 142.5 185.6 C140.57 185.6 138.63 185.6 136.7 185.6 C134.57 185.6 132.43 186 130.3 186 C129.3 186 128.3 184.81 127.3 184.2 C126.17 183.51 125.03 182.1 123.9 182.1 C121.93 182.1 119.97 182.72 118 183 C116.47 183.21 114.93 183.6 113.4 183.6 C110.27 183.6 107.13 182.71 104 181.9 C102.47 181.5 100.93 180.77 99.4 180.1 C98.03 179.51 96.67 178.56 95.3 178.1 C94.13 177.71 92.97 177.2 91.8 177.2 C90.83 177.2 89.87 178.74 88.9 179 C87.93 179.26 86.97 179.5 86 179.5 C84.63 179.5 83.27 179.23 81.9 179 C81.1 178.86 80.3 178.4 79.5 178.4 C78.77 178.4 78.03 178.6 77.3 179 C76.87 179.23 76.43 183 76 183 C75.5 183 75 179.51 74.5 179 C73.83 178.33 73.17 177.95 72.5 177.8 C70.57 177.36 68.63 177.23 66.7 177.1 C64.47 176.95 62.23 176.91 60 176.8 C56.67 176.64 53.33 176.47 50 176.3 Z"/></clipPath>
<g clip-path="url(#cb1)"><rect x="70" y="168" width="0.45" height="0.12" fill="#4a4a4a"/><rect x="70" y="168.07" width="0.45" height="8.32" fill="#343434"/><rect x="70" y="176.34" width="0.45" height="8.71" fill="#404040"/><rect x="70.4" y="168" width="0.65" height="2.75" fill="#616161"/><rect x="70.4" y="170.7" width="0.65" height="7.17" fill="#121212"/><rect x="70.4" y="177.83" width="0.65" height="7.22" fill="#5d5d5d"/><rect x="71" y="168" width="0.45" height="6.1" fill="#111111"/><rect x="71" y="174.05" width="0.45" height="4.68" fill="#2e2e2e"/><rect x="71" y="178.67" width="0.45" height="6.38" fill="#050505"/><rect x="71.4" y="168" width="0.55" height="6.5" fill="#383838"/><rect x="71.4" y="174.45" width="0.55" height="8.63" fill="#4d4d4d"/><rect x="71.4" y="183.03" width="0.55" height="2.02" fill="#5c5c5c"/><rect x="71.9" y="168" width="0.65" height="8.92" fill="#646464"/><rect x="71.9" y="176.87" width="0.65" height="1.07" fill="#090909"/><rect x="71.9" y="177.89" width="0.65" height="7.16" fill="#040404"/><rect x="72.5" y="168" width="0.65" height="7.9" fill="#060606"/><rect x="72.5" y="175.85" width="0.65" height="7.24" fill="#595959"/><rect x="72.5" y="183.05" width="0.65" height="2" fill="#040404"/><rect x="73.1" y="168" width="0.65" height="5.98" fill="#383838"/><rect x="73.1" y="173.93" width="0.65" height="4.37" fill="#3a3a3a"/><rect x="73.1" y="178.25" width="0.65" height="6.8" fill="#0d0d0d"/><rect x="73.7" y="168" width="0.55" height="6.58" fill="#5f5f5f"/><rect x="73.7" y="174.53" width="0.55" height="10.24" fill="#0c0c0c"/><rect x="73.7" y="184.73" width="0.55" height="0.32" fill="#070707"/><rect x="74.2" y="168" width="0.45" height="0.26" fill="#131313"/><rect x="74.2" y="168.21" width="0.45" height="14.36" fill="#050505"/><rect x="74.2" y="182.52" width="0.45" height="2.53" fill="#040404"/><rect x="74.6" y="168" width="0.85" height="10.04" fill="#555555"/><rect x="74.6" y="177.99" width="0.85" height="1.98" fill="#565656"/><rect x="74.6" y="179.92" width="0.85" height="5.13" fill="#656565"/><rect x="75.4" y="168" width="0.55" height="10.96" fill="#0c0c0c"/><rect x="75.4" y="178.91" width="0.55" height="0.7" fill="#0f0f0f"/><rect x="75.4" y="179.55" width="0.55" height="5.5" fill="#595959"/><rect x="75.9" y="168" width="0.65" height="8.26" fill="#292929"/><rect x="75.9" y="176.21" width="0.65" height="6.28" fill="#4c4c4c"/><rect x="75.9" y="182.44" width="0.65" height="2.61" fill="#656565"/><rect x="76.5" y="168" width="0.65" height="6.66" fill="#4a4a4a"/><rect x="76.5" y="174.61" width="0.65" height="6.67" fill="#2a2a2a"/><rect x="76.5" y="181.23" width="0.65" height="3.82" fill="#333333"/><rect x="77.1" y="168" width="0.55" height="1.77" fill="#505050"/><rect x="77.1" y="169.72" width="0.55" height="7.16" fill="#5a5a5a"/><rect x="77.1" y="176.83" width="0.55" height="8.22" fill="#545454"/><rect x="77.6" y="168" width="0.65" height="7.03" fill="#363636"/><rect x="77.6" y="174.98" width="0.65" height="9.19" fill="#434343"/><rect x="77.6" y="184.12" width="0.65" height="0.93" fill="#303030"/><rect x="78.2" y="168" width="0.65" height="4.34" fill="#010101"/><rect x="78.2" y="172.29" width="0.65" height="6.6" fill="#686868"/><rect x="78.2" y="178.84" width="0.65" height="6.21" fill="#575757"/><rect x="78.8" y="168" width="0.45" height="3.87" fill="#696969"/><rect x="78.8" y="171.82" width="0.45" height="8.84" fill="#373737"/><rect x="78.8" y="180.61" width="0.45" height="4.44" fill="#020202"/><rect x="79.2" y="168" width="0.45" height="10.83" fill="#484848"/><rect x="79.2" y="178.78" width="0.45" height="3.03" fill="#373737"/><rect x="79.2" y="181.76" width="0.45" height="3.29" fill="#404040"/><rect x="79.6" y="168" width="0.85" height="5.05" fill="#101010"/><rect x="79.6" y="173" width="0.85" height="3" fill="#404040"/><rect x="79.6" y="175.96" width="0.85" height="9.09" fill="#050505"/><rect x="80.4" y="168" width="0.85" height="8.24" fill="#606060"/><rect x="80.4" y="176.19" width="0.85" height="3.4" fill="#414141"/><rect x="80.4" y="179.54" width="0.85" height="5.51" fill="#3e3e3e"/><rect x="81.2" y="168" width="0.45" height="6.21" fill="#696969"/><rect x="81.2" y="174.16" width="0.45" height="5.1" fill="#2b2b2b"/><rect x="81.2" y="179.21" width="0.45" height="5.84" fill="#676767"/><rect x="81.6" y="168" width="0.55" height="5.92" fill="#505050"/><rect x="81.6" y="173.87" width="0.55" height="3.2" fill="#050505"/><rect x="81.6" y="177.02" width="0.55" height="8.03" fill="#525252"/><rect x="82.1" y="168" width="0.55" height="3.21" fill="#080808"/><rect x="82.1" y="171.16" width="0.55" height="4.58" fill="#4d4d4d"/><rect x="82.1" y="175.68" width="0.55" height="9.37" fill="#585858"/><rect x="82.6" y="168" width="0.45" height="11.41" fill="#5f5f5f"/><rect x="82.6" y="179.36" width="0.45" height="3.88" fill="#353535"/><rect x="82.6" y="183.2" width="0.45" height="1.85" fill="#4d4d4d"/><rect x="83" y="168" width="0.85" height="2.04" fill="#101010"/><rect x="83" y="169.99" width="0.85" height="9.47" fill="#494949"/><rect x="83" y="179.41" width="0.85" height="5.64" fill="#494949"/><rect x="83.8" y="168" width="0.85" height="2.85" fill="#515151"/><rect x="83.8" y="170.8" width="0.85" height="1.44" fill="#0d0d0d"/><rect x="83.8" y="172.19" width="0.85" height="12.86" fill="#090909"/><rect x="84.6" y="168" width="0.85" height="7.17" fill="#2d2d2d"/><rect x="84.6" y="175.12" width="0.85" height="9.26" fill="#0c0c0c"/><rect x="84.6" y="184.33" width="0.85" height="0.72" fill="#575757"/><rect x="85.4" y="168" width="0.65" height="1.65" fill="#494949"/><rect x="85.4" y="169.6" width="0.65" height="12.2" fill="#080808"/><rect x="85.4" y="181.75" width="0.65" height="3.3" fill="#0d0d0d"/><rect x="86" y="168" width="0.65" height="8.12" fill="#080808"/><rect x="86" y="176.07" width="0.65" height="0.92" fill="#454545"/><rect x="86" y="176.93" width="0.65" height="8.12" fill="#101010"/><rect x="86.6" y="168" width="0.85" height="5.72" fill="#040404"/><rect x="86.6" y="173.67" width="0.85" height="11.11" fill="#030303"/><rect x="86.6" y="184.73" width="0.85" height="0.32" fill="#131313"/><rect x="87.4" y="168" width="0.45" height="0.73" fill="#5a5a5a"/><rect x="87.4" y="168.68" width="0.45" height="12.7" fill="#060606"/><rect x="87.4" y="181.33" width="0.45" height="3.72" fill="#121212"/><rect x="87.8" y="168" width="0.45" height="13.46" fill="#525252"/><rect x="87.8" y="181.41" width="0.45" height="2.1" fill="#535353"/><rect x="87.8" y="183.47" width="0.45" height="1.58" fill="#515151"/><rect x="88.2" y="168" width="0.55" height="0.72" fill="#0d0d0d"/><rect x="88.2" y="168.67" width="0.55" height="10.15" fill="#020202"/><rect x="88.2" y="178.77" width="0.55" height="6.28" fill="#111111"/><rect x="88.7" y="168" width="0.55" height="9.61" fill="#080808"/><rect x="88.7" y="177.56" width="0.55" height="3.87" fill="#0c0c0c"/><rect x="88.7" y="181.37" width="0.55" height="3.68" fill="#0b0b0b"/><rect x="89.2" y="168" width="0.45" height="13.2" fill="#454545"/><rect x="89.2" y="181.15" width="0.45" height="0.92" fill="#0d0d0d"/><rect x="89.2" y="182.02" width="0.45" height="3.03" fill="#515151"/><rect x="89.6" y="168" width="0.55" height="7.06" fill="#2f2f2f"/><rect x="89.6" y="175.01" width="0.55" height="1.12" fill="#000000"/><rect x="89.6" y="176.08" width="0.55" height="8.97" fill="#282828"/><rect x="90.1" y="168" width="0.45" height="14.64" fill="#090909"/><rect x="90.1" y="182.59" width="0.45" height="2.23" fill="#3b3b3b"/><rect x="90.1" y="184.77" width="0.45" height="0.28" fill="#474747"/><rect x="90.5" y="168" width="0.45" height="6.27" fill="#0f0f0f"/><rect x="90.5" y="174.22" width="0.45" height="6.53" fill="#3c3c3c"/><rect x="90.5" y="180.7" width="0.45" height="4.35" fill="#4a4a4a"/><rect x="90.9" y="168" width="0.65" height="0.95" fill="#111111"/><rect x="90.9" y="168.9" width="0.65" height="14.68" fill="#585858"/><rect x="90.9" y="183.53" width="0.65" height="1.52" fill="#0c0c0c"/><rect x="91.5" y="168" width="0.85" height="5.43" fill="#6a6a6a"/><rect x="91.5" y="173.38" width="0.85" height="5.03" fill="#131313"/><rect x="91.5" y="178.35" width="0.85" height="6.7" fill="#303030"/></g>
<path d="M62 290.1 C63.4 289.93 64.8 289.78 66.2 289.6 C67.72 289.41 69.23 289.38 70.75 289 C71.8 288.74 72.85 285.83 73.9 284.9 C74.52 284.35 75.13 283.87 75.75 283.6 C76.37 283.33 76.98 283.29 77.6 283 C78.65 282.51 79.7 281.91 80.75 279.9 C81.17 279.1 81.58 273.21 82 271.75 C82.63 269.53 83.27 268.3 83.9 267.4 C84.52 266.53 85.13 265.5 85.75 265.5 C86.17 265.5 86.58 267.33 87 268 C87.63 269.02 88.27 270.03 88.9 270.5 C89.73 271.12 90.57 271.75 91.4 271.75 C92.63 271.75 93.87 270.62 95.1 269.9 C95.73 269.53 96.37 268.6 97 268.6 C97.63 268.6 98.27 268.89 98.9 269.25 C99.52 269.6 100.13 271.36 100.75 272.4 C101.37 273.44 101.98 274.73 102.6 275.5 C103.23 276.29 103.87 277.4 104.5 277.4 C105.33 277.4 106.17 275.72 107 275.5 C107.83 275.28 108.67 275.23 109.5 275.1 C110.43 274.96 111.37 274.96 112.3 274.7 C112.77 274.57 113.23 273.95 113.7 273 C114.17 272.05 114.63 265.05 115.1 264 C115.4 263.32 115.7 263.11 116 262.7 C116.43 262.1 116.87 261.36 117.3 261 C118 260.43 118.7 260.22 119.4 259.8 C119.93 259.48 120.47 259.3 121 258.8 C121.7 258.15 122.4 256.01 123.1 254.6 C123.93 252.92 124.77 250.82 125.6 249.5 C126.5 248.07 127.4 246.47 128.3 246 C129 245.64 129.7 245.3 130.4 245.3 C140.47 245.3 150.53 245.3 160.6 245.3 C160.9 245.3 161.2 246.42 161.5 247 C161.9 247.78 162.3 249.4 162.7 249.4 C163.05 249.4 163.4 249.17 163.75 249 C164.1 248.83 164.45 248.3 164.8 248.3 C165.13 248.3 165.47 250.5 165.8 250.5 C166.17 250.5 166.53 249.8 166.9 249.8 C167.23 249.8 167.57 252.04 167.9 252.5 C168.27 253 168.63 253.01 169 253.5 C169.33 253.95 169.67 254.9 170 256 C170.33 257.1 170.67 259.55 171 260.8 C171.7 263.43 172.4 267 173.1 267 C173.8 267 174.5 264.5 175.2 264.5 C175.9 264.5 176.6 268.87 177.3 270 C177.57 270.43 177.83 270.52 178.1 271 C178.6 271.9 179.1 275.64 179.6 276.9 C180.07 278.07 180.53 278.48 181 279.5 C181.5 280.59 182 282.63 182.5 283.5 C183.47 285.17 184.43 286.31 185.4 287 C185.9 287.36 186.4 287.61 186.9 287.8 C187.87 288.16 188.83 288.38 189.8 288.6 C190.3 288.71 190.8 288.9 191.3 288.9 C192.5 288.9 193.7 286.4 194.9 286.4 C196.13 286.4 197.37 288.9 198.6 288.9 C199.9 288.9 201.2 284.98 202.5 282.7 C203.7 280.6 204.9 275.7 206.1 275.7 C207.57 275.7 209.03 279.68 210.5 281.3 C211.97 282.92 213.43 285.6 214.9 285.6 C215.87 285.6 216.83 279.24 217.8 275.4 C218.53 272.49 219.27 265.5 220 265.5 C220.97 265.5 221.93 271.58 222.9 274 C224.13 277.09 225.37 282 226.6 282 C226.8 282 227 277.95 227.2 275 C227.37 272.54 227.53 265.2 227.7 265.2 C227.87 265.2 228.03 272.96 228.2 275 C228.63 280.32 229.07 285.6 229.5 285.6 C230.7 285.6 231.9 284.2 233.1 284.2 C234.33 284.2 235.57 289.14 236.8 289.3 C237.77 289.42 238.73 289.5 239.7 289.5 C241.63 289.5 243.57 285.9 245.5 285.9 C247.47 285.9 249.43 288.8 251.4 288.8 C252.6 288.8 253.8 288.75 255 288.6 C255.5 288.54 256 287.65 256.5 286 C256.73 285.23 256.97 278 257.2 278 C257.43 278 257.67 285.13 257.9 286 C258.4 287.86 258.9 288.96 259.4 289 C261.33 289.16 263.27 289.13 265.2 289.2 C268.47 289.32 271.73 289.55 275 289.6 C278.33 289.65 281.67 289.67 285 289.7 L285 290.5 C281.67 290.53 278.33 290.55 275 290.6 C271.73 290.65 268.47 291 265.2 291 C263.27 291 261.33 291 259.4 291 C258.9 291 258.4 292.15 257.9 294 C257.67 294.86 257.43 301.7 257.2 301.7 C256.97 301.7 256.73 294.79 256.5 294 C256 292.31 255.5 291.33 255 291.3 C253.8 291.22 252.6 291.2 251.4 291.2 C249.43 291.2 247.47 293.7 245.5 293.7 C243.57 293.7 241.63 290.8 239.7 290.8 C238.73 290.8 237.77 291.03 236.8 291.3 C235.57 291.64 234.33 294.4 233.1 294.4 C231.9 294.4 230.7 294.4 229.5 294.4 C229.07 294.4 228.63 300.79 228.2 306 C228.03 308 227.87 314.1 227.7 314.1 C227.53 314.1 227.37 308.03 227.2 306 C227 303.56 226.8 300.2 226.6 300.2 C225.37 300.2 224.13 303.52 222.9 305.3 C221.93 306.7 220.97 309.7 220 309.7 C219.27 309.7 218.53 305.21 217.8 303.1 C216.83 300.32 215.87 295.1 214.9 295.1 C213.43 295.1 211.97 297.29 210.5 298.8 C209.03 300.31 207.57 304.6 206.1 304.6 C204.9 304.6 203.7 299.36 202.5 297.3 C201.2 295.06 199.9 291.5 198.6 291.5 C197.37 291.5 196.13 293.7 194.9 293.7 C193.7 293.7 192.5 291.3 191.3 291.3 C190.8 291.3 190.3 291.4 189.8 291.5 C188.83 291.7 187.87 292.54 186.9 293.2 C186.4 293.54 185.9 293.98 185.4 294.4 C184.27 295.36 183.13 296.19 182 297.5 C181.33 298.27 180.67 299.3 180 300.5 C179.33 301.7 178.67 303.19 178 305 C177.5 306.36 177 307.58 176.5 310 C176.17 311.61 175.83 315.39 175.5 318 C175.2 320.35 174.9 324.9 174.6 324.9 C174.07 324.9 173.53 322.48 173 321 C172.53 319.7 172.07 317.07 171.6 316.5 C171 315.77 170.4 315.2 169.8 315.2 C169.53 315.2 169.27 318.95 169 322 C168.77 324.67 168.53 333.87 168.3 334 C168.07 334.13 167.83 334.2 167.6 334.2 C167.33 334.2 167.07 329.14 166.8 327 C166.5 324.59 166.2 320.5 165.9 320.5 C165.17 320.5 164.43 324.66 163.7 327 C162.97 329.34 162.23 334.6 161.5 334.6 C150.25 334.6 139 334.6 127.75 334.6 C126.97 334.6 126.18 330.04 125.4 327.8 C124.6 325.51 123.8 321 123 321 C121.97 321 120.93 325.53 119.9 327.8 C118.87 330.07 117.83 334.6 116.8 334.6 C116.53 334.6 116.27 334.6 116 334.6 C115.7 334.6 115.4 331.2 115.1 330 C114.63 328.13 114.17 327.15 113.7 325.5 C113.23 323.85 112.77 321.83 112.3 320 C111.83 318.17 111.37 316.33 110.9 314.5 C110.43 312.67 109.97 309.19 109.5 309 C108.67 308.65 107.83 308.73 107 308.5 C106.17 308.27 105.33 307.7 104.5 307.4 C103.87 307.17 103.23 307.02 102.6 306.8 C101.98 306.59 101.37 306.32 100.75 306.1 C100.13 305.88 99.52 305.75 98.9 305.5 C98.27 305.25 97.63 304.9 97 304.5 C96.37 304.1 95.73 303 95.1 303 C93.87 303 92.63 304.9 91.4 304.9 C90.57 304.9 89.73 304.6 88.9 304.25 C88.27 303.99 87.63 303.17 87 302.5 C86.58 302.06 86.17 301.44 85.75 301 C85.13 300.34 84.52 299.59 83.9 299.25 C83.27 298.9 82.63 298.75 82 298.5 C81.58 298.33 81.17 298 80.75 298 C79.7 298 78.65 302.4 77.6 302.4 C76.98 302.4 76.37 301.51 75.75 300.5 C75.13 299.49 74.52 293.56 73.9 293 C72.85 292.04 71.8 291.78 70.75 291.5 C69.23 291.1 67.72 290.94 66.2 290.7 C64.8 290.48 63.4 290.3 62 290.1 Z" fill="#000" />
<clipPath id="bp1"><path d="M62 290.1 C63.4 289.93 64.8 289.78 66.2 289.6 C67.72 289.41 69.23 289.38 70.75 289 C71.8 288.74 72.85 285.83 73.9 284.9 C74.52 284.35 75.13 283.87 75.75 283.6 C76.37 283.33 76.98 283.29 77.6 283 C78.65 282.51 79.7 281.91 80.75 279.9 C81.17 279.1 81.58 273.21 82 271.75 C82.63 269.53 83.27 268.3 83.9 267.4 C84.52 266.53 85.13 265.5 85.75 265.5 C86.17 265.5 86.58 267.33 87 268 C87.63 269.02 88.27 270.03 88.9 270.5 C89.73 271.12 90.57 271.75 91.4 271.75 C92.63 271.75 93.87 270.62 95.1 269.9 C95.73 269.53 96.37 268.6 97 268.6 C97.63 268.6 98.27 268.89 98.9 269.25 C99.52 269.6 100.13 271.36 100.75 272.4 C101.37 273.44 101.98 274.73 102.6 275.5 C103.23 276.29 103.87 277.4 104.5 277.4 C105.33 277.4 106.17 275.72 107 275.5 C107.83 275.28 108.67 275.23 109.5 275.1 C110.43 274.96 111.37 274.96 112.3 274.7 C112.77 274.57 113.23 273.95 113.7 273 C114.17 272.05 114.63 265.05 115.1 264 C115.4 263.32 115.7 263.11 116 262.7 C116.43 262.1 116.87 261.36 117.3 261 C118 260.43 118.7 260.22 119.4 259.8 C119.93 259.48 120.47 259.3 121 258.8 C121.7 258.15 122.4 256.01 123.1 254.6 C123.93 252.92 124.77 250.82 125.6 249.5 C126.5 248.07 127.4 246.47 128.3 246 C129 245.64 129.7 245.3 130.4 245.3 C140.47 245.3 150.53 245.3 160.6 245.3 C160.9 245.3 161.2 246.42 161.5 247 C161.9 247.78 162.3 249.4 162.7 249.4 C163.05 249.4 163.4 249.17 163.75 249 C164.1 248.83 164.45 248.3 164.8 248.3 C165.13 248.3 165.47 250.5 165.8 250.5 C166.17 250.5 166.53 249.8 166.9 249.8 C167.23 249.8 167.57 252.04 167.9 252.5 C168.27 253 168.63 253.01 169 253.5 C169.33 253.95 169.67 254.9 170 256 C170.33 257.1 170.67 259.55 171 260.8 C171.7 263.43 172.4 267 173.1 267 C173.8 267 174.5 264.5 175.2 264.5 C175.9 264.5 176.6 268.87 177.3 270 C177.57 270.43 177.83 270.52 178.1 271 C178.6 271.9 179.1 275.64 179.6 276.9 C180.07 278.07 180.53 278.48 181 279.5 C181.5 280.59 182 282.63 182.5 283.5 C183.47 285.17 184.43 286.31 185.4 287 C185.9 287.36 186.4 287.61 186.9 287.8 C187.87 288.16 188.83 288.38 189.8 288.6 C190.3 288.71 190.8 288.9 191.3 288.9 C192.5 288.9 193.7 286.4 194.9 286.4 C196.13 286.4 197.37 288.9 198.6 288.9 C199.9 288.9 201.2 284.98 202.5 282.7 C203.7 280.6 204.9 275.7 206.1 275.7 C207.57 275.7 209.03 279.68 210.5 281.3 C211.97 282.92 213.43 285.6 214.9 285.6 C215.87 285.6 216.83 279.24 217.8 275.4 C218.53 272.49 219.27 265.5 220 265.5 C220.97 265.5 221.93 271.58 222.9 274 C224.13 277.09 225.37 282 226.6 282 C226.8 282 227 277.95 227.2 275 C227.37 272.54 227.53 265.2 227.7 265.2 C227.87 265.2 228.03 272.96 228.2 275 C228.63 280.32 229.07 285.6 229.5 285.6 C230.7 285.6 231.9 284.2 233.1 284.2 C234.33 284.2 235.57 289.14 236.8 289.3 C237.77 289.42 238.73 289.5 239.7 289.5 C241.63 289.5 243.57 285.9 245.5 285.9 C247.47 285.9 249.43 288.8 251.4 288.8 C252.6 288.8 253.8 288.75 255 288.6 C255.5 288.54 256 287.65 256.5 286 C256.73 285.23 256.97 278 257.2 278 C257.43 278 257.67 285.13 257.9 286 C258.4 287.86 258.9 288.96 259.4 289 C261.33 289.16 263.27 289.13 265.2 289.2 C268.47 289.32 271.73 289.55 275 289.6 C278.33 289.65 281.67 289.67 285 289.7 L285 290.5 C281.67 290.53 278.33 290.55 275 290.6 C271.73 290.65 268.47 291 265.2 291 C263.27 291 261.33 291 259.4 291 C258.9 291 258.4 292.15 257.9 294 C257.67 294.86 257.43 301.7 257.2 301.7 C256.97 301.7 256.73 294.79 256.5 294 C256 292.31 255.5 291.33 255 291.3 C253.8 291.22 252.6 291.2 251.4 291.2 C249.43 291.2 247.47 293.7 245.5 293.7 C243.57 293.7 241.63 290.8 239.7 290.8 C238.73 290.8 237.77 291.03 236.8 291.3 C235.57 291.64 234.33 294.4 233.1 294.4 C231.9 294.4 230.7 294.4 229.5 294.4 C229.07 294.4 228.63 300.79 228.2 306 C228.03 308 227.87 314.1 227.7 314.1 C227.53 314.1 227.37 308.03 227.2 306 C227 303.56 226.8 300.2 226.6 300.2 C225.37 300.2 224.13 303.52 222.9 305.3 C221.93 306.7 220.97 309.7 220 309.7 C219.27 309.7 218.53 305.21 217.8 303.1 C216.83 300.32 215.87 295.1 214.9 295.1 C213.43 295.1 211.97 297.29 210.5 298.8 C209.03 300.31 207.57 304.6 206.1 304.6 C204.9 304.6 203.7 299.36 202.5 297.3 C201.2 295.06 199.9 291.5 198.6 291.5 C197.37 291.5 196.13 293.7 194.9 293.7 C193.7 293.7 192.5 291.3 191.3 291.3 C190.8 291.3 190.3 291.4 189.8 291.5 C188.83 291.7 187.87 292.54 186.9 293.2 C186.4 293.54 185.9 293.98 185.4 294.4 C184.27 295.36 183.13 296.19 182 297.5 C181.33 298.27 180.67 299.3 180 300.5 C179.33 301.7 178.67 303.19 178 305 C177.5 306.36 177 307.58 176.5 310 C176.17 311.61 175.83 315.39 175.5 318 C175.2 320.35 174.9 324.9 174.6 324.9 C174.07 324.9 173.53 322.48 173 321 C172.53 319.7 172.07 317.07 171.6 316.5 C171 315.77 170.4 315.2 169.8 315.2 C169.53 315.2 169.27 318.95 169 322 C168.77 324.67 168.53 333.87 168.3 334 C168.07 334.13 167.83 334.2 167.6 334.2 C167.33 334.2 167.07 329.14 166.8 327 C166.5 324.59 166.2 320.5 165.9 320.5 C165.17 320.5 164.43 324.66 163.7 327 C162.97 329.34 162.23 334.6 161.5 334.6 C150.25 334.6 139 334.6 127.75 334.6 C126.97 334.6 126.18 330.04 125.4 327.8 C124.6 325.51 123.8 321 123 321 C121.97 321 120.93 325.53 119.9 327.8 C118.87 330.07 117.83 334.6 116.8 334.6 C116.53 334.6 116.27 334.6 116 334.6 C115.7 334.6 115.4 331.2 115.1 330 C114.63 328.13 114.17 327.15 113.7 325.5 C113.23 323.85 112.77 321.83 112.3 320 C111.83 318.17 111.37 316.33 110.9 314.5 C110.43 312.67 109.97 309.19 109.5 309 C108.67 308.65 107.83 308.73 107 308.5 C106.17 308.27 105.33 307.7 104.5 307.4 C103.87 307.17 103.23 307.02 102.6 306.8 C101.98 306.59 101.37 306.32 100.75 306.1 C100.13 305.88 99.52 305.75 98.9 305.5 C98.27 305.25 97.63 304.9 97 304.5 C96.37 304.1 95.73 303 95.1 303 C93.87 303 92.63 304.9 91.4 304.9 C90.57 304.9 89.73 304.6 88.9 304.25 C88.27 303.99 87.63 303.17 87 302.5 C86.58 302.06 86.17 301.44 85.75 301 C85.13 300.34 84.52 299.59 83.9 299.25 C83.27 298.9 82.63 298.75 82 298.5 C81.58 298.33 81.17 298 80.75 298 C79.7 298 78.65 302.4 77.6 302.4 C76.98 302.4 76.37 301.51 75.75 300.5 C75.13 299.49 74.52 293.56 73.9 293 C72.85 292.04 71.8 291.78 70.75 291.5 C69.23 291.1 67.72 290.94 66.2 290.7 C64.8 290.48 63.4 290.3 62 290.1 Z"/></clipPath>
<g clip-path="url(#bp1)"><rect x="80.5" y="262" width="0.55" height="8.83" fill="#717171"/><rect x="80.5" y="270.78" width="0.55" height="4.5" fill="#929292"/><rect x="80.5" y="275.22" width="0.55" height="7.83" fill="#010101"/><rect x="81" y="262" width="0.65" height="15.29" fill="#101010"/><rect x="81" y="277.24" width="0.65" height="3.07" fill="#7d7d7d"/><rect x="81" y="280.26" width="0.65" height="2.79" fill="#686868"/><rect x="81.6" y="262" width="0.85" height="12.69" fill="#000000"/><rect x="81.6" y="274.64" width="0.85" height="6.23" fill="#696969"/><rect x="81.6" y="280.82" width="0.85" height="2.23" fill="#7d7d7d"/><rect x="82.4" y="262" width="0.45" height="3" fill="#8f8f8f"/><rect x="82.4" y="264.95" width="0.45" height="3.15" fill="#626262"/><rect x="82.4" y="268.06" width="0.45" height="14.99" fill="#898989"/><rect x="82.8" y="262" width="0.85" height="1.84" fill="#7b7b7b"/><rect x="82.8" y="263.79" width="0.85" height="5.55" fill="#666666"/><rect x="82.8" y="269.28" width="0.85" height="13.77" fill="#0c0c0c"/><rect x="83.6" y="262" width="0.85" height="4.39" fill="#696969"/><rect x="83.6" y="266.34" width="0.85" height="5.48" fill="#898989"/><rect x="83.6" y="271.77" width="0.85" height="11.28" fill="#5f5f5f"/><rect x="84.4" y="262" width="0.45" height="4.94" fill="#8f8f8f"/><rect x="84.4" y="266.89" width="0.45" height="7.33" fill="#797979"/><rect x="84.4" y="274.17" width="0.45" height="8.88" fill="#030303"/><rect x="84.8" y="262" width="0.55" height="6.14" fill="#7c7c7c"/><rect x="84.8" y="268.09" width="0.55" height="10.89" fill="#888888"/><rect x="84.8" y="278.92" width="0.55" height="4.13" fill="#686868"/><rect x="85.3" y="262" width="0.85" height="2.28" fill="#7f7f7f"/><rect x="85.3" y="264.23" width="0.85" height="5.68" fill="#636363"/><rect x="85.3" y="269.85" width="0.85" height="13.2" fill="#6e6e6e"/><rect x="86.1" y="262" width="0.45" height="2.03" fill="#8e8e8e"/><rect x="86.1" y="263.98" width="0.45" height="2.37" fill="#121212"/><rect x="86.1" y="266.3" width="0.45" height="16.75" fill="#080808"/><rect x="86.5" y="262" width="0.55" height="0.85" fill="#010101"/><rect x="86.5" y="262.8" width="0.55" height="4.59" fill="#5d5d5d"/><rect x="86.5" y="267.33" width="0.55" height="15.72" fill="#8e8e8e"/><rect x="87" y="262" width="0.45" height="13.49" fill="#919191"/><rect x="87" y="275.44" width="0.45" height="4.74" fill="#040404"/><rect x="87" y="280.12" width="0.45" height="2.93" fill="#5f5f5f"/><rect x="87.4" y="262" width="0.85" height="3.89" fill="#0e0e0e"/><rect x="87.4" y="265.84" width="0.85" height="14.06" fill="#646464"/><rect x="87.4" y="279.84" width="0.85" height="3.21" fill="#0b0b0b"/><rect x="88.2" y="262" width="0.45" height="1.04" fill="#898989"/><rect x="88.2" y="262.99" width="0.45" height="16.64" fill="#808080"/><rect x="88.2" y="279.58" width="0.45" height="3.47" fill="#0f0f0f"/><rect x="88.6" y="262" width="0.55" height="6.32" fill="#7d7d7d"/><rect x="88.6" y="268.27" width="0.55" height="7.99" fill="#050505"/><rect x="88.6" y="276.21" width="0.55" height="6.84" fill="#616161"/><rect x="89.1" y="262" width="0.55" height="9.32" fill="#909090"/><rect x="89.1" y="271.27" width="0.55" height="7.74" fill="#767676"/><rect x="89.1" y="278.96" width="0.55" height="4.09" fill="#101010"/><rect x="89.6" y="262" width="0.45" height="18.25" fill="#080808"/><rect x="89.6" y="280.2" width="0.45" height="1.46" fill="#5f5f5f"/><rect x="89.6" y="281.61" width="0.45" height="1.44" fill="#8c8c8c"/><rect x="90" y="262" width="0.85" height="6.82" fill="#070707"/><rect x="90" y="268.77" width="0.85" height="13.69" fill="#6d6d6d"/><rect x="90" y="282.42" width="0.85" height="0.63" fill="#646464"/><rect x="90.8" y="262" width="0.55" height="3.19" fill="#000000"/><rect x="90.8" y="265.14" width="0.55" height="6.13" fill="#101010"/><rect x="90.8" y="271.22" width="0.55" height="11.83" fill="#090909"/><rect x="91.3" y="262" width="0.85" height="2.45" fill="#5d5d5d"/><rect x="91.3" y="264.4" width="0.85" height="18.2" fill="#090909"/><rect x="91.3" y="282.55" width="0.85" height="0.5" fill="#040404"/></g>
<g clip-path="url(#bp1)"><rect x="91.5" y="265" width="0.65" height="3.71" fill="#070707"/><rect x="91.5" y="268.66" width="0.65" height="2.44" fill="#101010"/><rect x="91.5" y="271.05" width="0.65" height="8" fill="#0c0c0c"/><rect x="92.1" y="265" width="0.85" height="4.82" fill="#101010"/><rect x="92.1" y="269.77" width="0.85" height="6.58" fill="#080808"/><rect x="92.1" y="276.3" width="0.85" height="2.75" fill="#0b0b0b"/><rect x="92.9" y="265" width="0.55" height="7.35" fill="#0c0c0c"/><rect x="92.9" y="272.3" width="0.55" height="4.55" fill="#818181"/><rect x="92.9" y="276.81" width="0.55" height="2.24" fill="#7b7b7b"/><rect x="93.4" y="265" width="0.55" height="2.93" fill="#7a7a7a"/><rect x="93.4" y="267.88" width="0.55" height="5.74" fill="#010101"/><rect x="93.4" y="273.57" width="0.55" height="5.48" fill="#0e0e0e"/><rect x="93.9" y="265" width="0.45" height="4.92" fill="#606060"/><rect x="93.9" y="269.87" width="0.45" height="2.44" fill="#080808"/><rect x="93.9" y="272.26" width="0.45" height="6.79" fill="#0d0d0d"/><rect x="94.3" y="265" width="0.55" height="2.65" fill="#070707"/><rect x="94.3" y="267.6" width="0.55" height="9.09" fill="#0a0a0a"/><rect x="94.3" y="276.64" width="0.55" height="2.41" fill="#6a6a6a"/><rect x="94.8" y="265" width="0.45" height="3.48" fill="#818181"/><rect x="94.8" y="268.43" width="0.45" height="1.62" fill="#7e7e7e"/><rect x="94.8" y="269.99" width="0.45" height="9.06" fill="#727272"/><rect x="95.2" y="265" width="0.65" height="12.27" fill="#6d6d6d"/><rect x="95.2" y="277.22" width="0.65" height="1.19" fill="#6f6f6f"/><rect x="95.2" y="278.36" width="0.65" height="0.69" fill="#515151"/><rect x="95.8" y="265" width="0.55" height="2.4" fill="#626262"/><rect x="95.8" y="267.35" width="0.55" height="6.37" fill="#121212"/><rect x="95.8" y="273.67" width="0.55" height="5.38" fill="#101010"/><rect x="96.3" y="265" width="0.85" height="7.37" fill="#565656"/><rect x="96.3" y="272.32" width="0.85" height="2.57" fill="#020202"/><rect x="96.3" y="274.84" width="0.85" height="4.21" fill="#6d6d6d"/><rect x="97.1" y="265" width="0.65" height="1.59" fill="#858585"/><rect x="97.1" y="266.54" width="0.65" height="0.21" fill="#0d0d0d"/><rect x="97.1" y="266.7" width="0.65" height="12.35" fill="#121212"/><rect x="97.7" y="265" width="0.45" height="5.49" fill="#696969"/><rect x="97.7" y="270.44" width="0.45" height="7.73" fill="#121212"/><rect x="97.7" y="278.13" width="0.45" height="0.92" fill="#040404"/><rect x="98.1" y="265" width="0.65" height="10.07" fill="#717171"/><rect x="98.1" y="275.02" width="0.65" height="1.83" fill="#0b0b0b"/><rect x="98.1" y="276.8" width="0.65" height="2.25" fill="#0d0d0d"/><rect x="98.7" y="265" width="0.65" height="3.54" fill="#0a0a0a"/><rect x="98.7" y="268.49" width="0.65" height="2.47" fill="#0a0a0a"/><rect x="98.7" y="270.91" width="0.65" height="8.14" fill="#131313"/><rect x="99.3" y="265" width="0.85" height="8.91" fill="#858585"/><rect x="99.3" y="273.86" width="0.85" height="2.51" fill="#525252"/><rect x="99.3" y="276.33" width="0.85" height="2.72" fill="#5f5f5f"/></g>
<g clip-path="url(#bp1)"><rect x="73" y="294" width="0.65" height="6.33" fill="#020202"/><rect x="73" y="300.28" width="0.65" height="1.83" fill="#000000"/><rect x="73" y="302.06" width="0.65" height="1.99" fill="#565656"/><rect x="73.6" y="294" width="0.55" height="1.25" fill="#898989"/><rect x="73.6" y="295.2" width="0.55" height="4.79" fill="#606060"/><rect x="73.6" y="299.94" width="0.55" height="4.11" fill="#020202"/><rect x="74.1" y="294" width="0.55" height="8.9" fill="#0e0e0e"/><rect x="74.1" y="302.85" width="0.55" height="0.35" fill="#090909"/><rect x="74.1" y="303.16" width="0.55" height="0.89" fill="#070707"/><rect x="74.6" y="294" width="0.65" height="4.66" fill="#747474"/><rect x="74.6" y="298.61" width="0.65" height="0.92" fill="#040404"/><rect x="74.6" y="299.48" width="0.65" height="4.57" fill="#6e6e6e"/><rect x="75.2" y="294" width="0.85" height="0.17" fill="#0b0b0b"/><rect x="75.2" y="294.12" width="0.85" height="3.46" fill="#131313"/><rect x="75.2" y="297.53" width="0.85" height="6.52" fill="#616161"/><rect x="76" y="294" width="0.55" height="5.56" fill="#646464"/><rect x="76" y="299.51" width="0.55" height="0.6" fill="#6f6f6f"/><rect x="76" y="300.06" width="0.55" height="3.99" fill="#656565"/><rect x="76.5" y="294" width="0.55" height="6.83" fill="#888888"/><rect x="76.5" y="300.78" width="0.55" height="3.17" fill="#040404"/><rect x="76.5" y="303.89" width="0.55" height="0.16" fill="#101010"/><rect x="77" y="294" width="0.45" height="7.44" fill="#7d7d7d"/><rect x="77" y="301.39" width="0.45" height="0.1" fill="#7f7f7f"/><rect x="77" y="301.43" width="0.45" height="2.62" fill="#111111"/><rect x="77.4" y="294" width="0.45" height="4.15" fill="#575757"/><rect x="77.4" y="298.1" width="0.45" height="1.45" fill="#101010"/><rect x="77.4" y="299.5" width="0.45" height="4.55" fill="#606060"/><rect x="77.8" y="294" width="0.45" height="3.85" fill="#6b6b6b"/><rect x="77.8" y="297.8" width="0.45" height="0.78" fill="#616161"/><rect x="77.8" y="298.52" width="0.45" height="5.53" fill="#717171"/><rect x="78.2" y="294" width="0.65" height="0.12" fill="#8b8b8b"/><rect x="78.2" y="294.07" width="0.65" height="7.44" fill="#626262"/><rect x="78.2" y="301.46" width="0.65" height="2.59" fill="#808080"/><rect x="78.8" y="294" width="0.85" height="0.93" fill="#878787"/><rect x="78.8" y="294.88" width="0.85" height="4.99" fill="#828282"/><rect x="78.8" y="299.82" width="0.85" height="4.23" fill="#080808"/><rect x="79.6" y="294" width="0.45" height="0.31" fill="#0a0a0a"/><rect x="79.6" y="294.26" width="0.45" height="2.36" fill="#626262"/><rect x="79.6" y="296.57" width="0.45" height="7.48" fill="#6a6a6a"/><rect x="80" y="294" width="0.85" height="3.63" fill="#737373"/><rect x="80" y="297.58" width="0.85" height="0.37" fill="#888888"/><rect x="80" y="297.9" width="0.85" height="6.15" fill="#070707"/><rect x="80.8" y="294" width="0.85" height="6.54" fill="#080808"/><rect x="80.8" y="300.49" width="0.85" height="2.85" fill="#686868"/><rect x="80.8" y="303.28" width="0.85" height="0.77" fill="#858585"/></g>
<g clip-path="url(#bp1)"><rect x="72" y="283" width="0.45" height="0.9" fill="#4f4f4f"/><rect x="72" y="283.85" width="0.45" height="4.2" fill="#6d6d6d"/><rect x="72.4" y="283" width="0.45" height="3.33" fill="#121212"/><rect x="72.4" y="286.28" width="0.45" height="1.77" fill="#5a5a5a"/><rect x="72.8" y="283" width="0.55" height="2.67" fill="#111111"/><rect x="72.8" y="285.62" width="0.55" height="2.43" fill="#0b0b0b"/><rect x="73.3" y="283" width="0.45" height="1.82" fill="#777777"/><rect x="73.3" y="284.77" width="0.45" height="3.28" fill="#3e3e3e"/><rect x="73.7" y="283" width="0.45" height="1.58" fill="#060606"/><rect x="73.7" y="284.53" width="0.45" height="3.52" fill="#6e6e6e"/><rect x="74.1" y="283" width="0.45" height="1.03" fill="#595959"/><rect x="74.1" y="283.98" width="0.45" height="4.07" fill="#4b4b4b"/><rect x="74.5" y="283" width="0.55" height="2.92" fill="#030303"/><rect x="74.5" y="285.87" width="0.55" height="2.18" fill="#020202"/><rect x="75" y="283" width="0.55" height="4.79" fill="#595959"/><rect x="75" y="287.74" width="0.55" height="0.31" fill="#555555"/><rect x="75.5" y="283" width="0.45" height="3.47" fill="#040404"/><rect x="75.5" y="286.42" width="0.45" height="1.63" fill="#0c0c0c"/><rect x="75.9" y="283" width="0.45" height="1.79" fill="#010101"/><rect x="75.9" y="284.74" width="0.45" height="3.31" fill="#717171"/><rect x="76.3" y="283" width="0.45" height="2.25" fill="#000000"/><rect x="76.3" y="285.2" width="0.45" height="2.85" fill="#737373"/><rect x="76.7" y="283" width="0.65" height="0.08" fill="#707070"/><rect x="76.7" y="283.03" width="0.65" height="5.02" fill="#111111"/><rect x="77.3" y="283" width="0.45" height="1.26" fill="#535353"/><rect x="77.3" y="284.21" width="0.45" height="3.84" fill="#111111"/><rect x="77.7" y="283" width="0.85" height="0.16" fill="#030303"/><rect x="77.7" y="283.11" width="0.85" height="4.94" fill="#111111"/><rect x="78.5" y="283" width="0.85" height="2.86" fill="#424242"/><rect x="78.5" y="285.81" width="0.85" height="2.24" fill="#535353"/><rect x="79.3" y="283" width="0.45" height="4.86" fill="#555555"/><rect x="79.3" y="287.81" width="0.45" height="0.24" fill="#090909"/><rect x="79.7" y="283" width="0.65" height="1.24" fill="#3e3e3e"/><rect x="79.7" y="284.19" width="0.65" height="3.86" fill="#0e0e0e"/></g>
<path d="M81 403.5 C82 402.83 83 402.44 84 401.5 C84.6 400.94 85.2 398.9 85.8 398.9 C86.43 398.9 87.07 400.77 87.7 401.5 C88.3 402.19 88.9 403.3 89.5 403.3 C93 403.3 96.5 403.3 100 403.3 C102 403.3 104 403.13 106 403.05 C108.33 402.96 110.67 402.9 113 402.8 C115.33 402.7 117.67 402.56 120 402.4 C123.9 402.14 127.8 401.85 131.7 401.4 C134.6 401.06 137.5 400.7 140.4 399.9 C142.1 399.43 143.8 398.51 145.5 397 C146.73 395.91 147.97 392.62 149.2 390.4 C150.27 388.48 151.33 384.6 152.4 384.6 C153.5 384.6 154.6 390.51 155.7 391.9 C157.4 394.04 159.1 395.53 160.8 396.2 C162.77 396.98 164.73 397.7 166.7 397.7 C168.4 397.7 170.1 397.4 171.8 397 C173 396.72 174.2 394.8 175.4 394.8 C176.37 394.8 177.33 396.17 178.3 397 C179.77 398.25 181.23 400.68 182.7 401.4 C184.13 402.1 185.57 402.71 187 402.8 C188.97 402.93 190.93 403 192.9 403 C194.83 403 196.77 402.67 198.7 402.3 C200.17 402.02 201.63 400.5 203.1 400.5 C204.23 400.5 205.37 402.33 206.5 402.5 C207.67 402.68 208.83 402.8 210 402.8 C211.33 402.8 212.67 401.6 214 401 C215.5 400.33 217 400.46 218.5 399 C218.87 398.64 219.23 395.1 219.6 394 C219.8 393.4 220 392.6 220.2 392.6 C220.4 392.6 220.6 393.42 220.8 394 C221.2 395.16 221.6 398.5 222 399 C223.33 400.67 224.67 401.16 226 401.5 C228.43 402.13 230.87 402.48 233.3 402.6 C238.53 402.85 243.77 402.87 249 403 L249 404.2 C243.77 404.33 238.53 404.35 233.3 404.6 C230.87 404.72 228.43 405.12 226 405.8 C224.67 406.17 223.33 406.72 222 408.5 C221.6 409.03 221.2 411.76 220.8 413.5 C220.6 414.37 220.4 416.2 220.2 416.2 C220 416.2 219.8 414.4 219.6 413.5 C219.23 411.84 218.87 408.93 218.5 408.5 C217 406.74 215.5 406.67 214 406 C212.67 405.41 211.33 404.5 210 404.5 C208.83 404.5 207.67 404.73 206.5 405 C205.37 405.26 204.23 407 203.1 407 C201.63 407 200.17 405.63 198.7 405.3 C196.77 404.86 194.83 404.4 192.9 404.4 C190.93 404.4 188.97 404.68 187 405 C185.57 405.23 184.13 405.8 182.7 406.5 C181.23 407.22 179.77 408.95 178.3 410.1 C177.33 410.86 176.37 412.3 175.4 412.3 C174.2 412.3 173 410.38 171.8 410.1 C170.1 409.7 168.4 409.4 166.7 409.4 C164.73 409.4 162.77 409.92 160.8 410.5 C159.1 411 157.4 411.95 155.7 413.8 C154.6 414.99 153.5 422.5 152.4 422.5 C151.33 422.5 150.27 417.19 149.2 415.2 C147.97 412.9 146.73 410.14 145.5 409.4 C143.8 408.39 142.1 407.99 140.4 407.6 C137.5 406.94 134.6 406.51 131.7 406.2 C127.8 405.79 123.9 405.64 120 405.3 C117.67 405.09 115.33 404.79 113 404.6 C110.67 404.41 108.33 404.24 106 404.1 C104 403.98 102 403.8 100 403.8 C96.5 403.8 93 403.8 89.5 403.8 C88.9 403.8 88.3 404.89 87.7 405.5 C87.07 406.14 86.43 407.6 85.8 407.6 C85.2 407.6 84.6 406.02 84 405.5 C83 404.63 82 404.17 81 403.5 Z" fill="#000" />
<path d="M410 61.4 C412 61.27 414 61.14 416 61 C419.57 60.75 423.13 60.39 426.7 60.2 C428.22 60.12 429.73 60.13 431.25 60 C432.5 59.9 433.75 59.13 435 58.1 C435.63 57.58 436.27 55.47 436.9 55 C437.3 54.71 437.7 54.4 438.1 54.4 C438.53 54.4 438.97 56.77 439.4 56.9 C440.85 57.34 442.3 57.5 443.75 57.5 C445.83 57.5 447.92 57.23 450 56.25 C450.42 56.05 450.83 53.17 451.25 51.9 C451.67 50.63 452.08 49.84 452.5 48.5 C452.7 47.86 452.9 46.49 453.1 46.25 C453.32 45.99 453.53 45.92 453.75 45.8 C454.17 45.57 454.58 45.25 455 45.25 C455.42 45.25 455.83 45.73 456.25 46 C456.67 46.27 457.08 46.79 457.5 46.9 C458.13 47.07 458.77 47.1 459.4 47.2 C459.8 47.26 460.2 47.34 460.6 47.4 C460.82 47.43 461.03 47.45 461.25 47.5 C461.67 47.59 462.08 47.85 462.5 48 C463.33 48.29 464.17 48.35 465 48.75 C465.83 49.15 466.67 50.71 467.5 51.9 C468.13 52.81 468.77 54.73 469.4 55 C470.23 55.36 471.07 55.6 471.9 55.6 C472.37 55.6 472.83 54.57 473.3 54.1 C473.87 53.53 474.43 53.18 475 52.5 C475.43 51.98 475.87 51.02 476.3 50.4 C477.5 48.69 478.7 47.57 479.9 46 C481.1 44.43 482.3 42.8 483.5 40.9 C484.42 39.45 485.33 37.9 486.25 36 C486.93 34.58 487.62 32.52 488.3 31 C489 29.44 489.7 28.53 490.4 26.7 C490.77 25.74 491.13 24.23 491.5 23 C491.97 21.43 492.43 19.61 492.9 18.3 C493.1 17.74 493.3 16.8 493.5 16.8 C495.6 16.8 497.7 16.8 499.8 16.8 C500.5 16.8 501.2 20.69 501.9 22.5 C502.23 23.36 502.57 24.2 502.9 25 C503.6 26.68 504.3 28.37 505 29.8 C505.67 31.16 506.33 32.36 507 33.5 C507.73 34.76 508.47 35.88 509.2 37 C510.23 38.57 511.27 39.81 512.3 41.5 C512.63 42.05 512.97 43.15 513.3 43.3 C513.7 43.48 514.1 43.6 514.5 43.6 C515.17 43.6 515.83 43.3 516.5 43.3 C517 43.3 517.5 44.26 518 44.5 C518.5 44.74 519 44.78 519.5 45 C520.23 45.32 520.97 45.98 521.7 46.5 C522.38 46.98 523.07 47.47 523.75 48 C524.8 48.81 525.85 49.49 526.9 50.6 C528.27 52.05 529.63 55.66 531 56.9 C532.4 58.17 533.8 59.26 535.2 59.6 C537.63 60.18 540.07 60.6 542.5 60.6 C544.33 60.6 546.17 60.47 548 60.3 C549.87 60.12 551.73 58.3 553.6 58.3 C554.73 58.3 555.87 60.5 557 60.5 C559 60.5 561 60.27 563 60 C564.67 59.78 566.33 58.77 568 58.5 C570.2 58.15 572.4 57.8 574.6 57.8 C576.4 57.8 578.2 58.11 580 58.5 C581.17 58.76 582.33 60.23 583.5 60.4 C585.67 60.72 587.83 60.82 590 60.9 C592.67 61 595.33 61.02 598 61.1 C600.67 61.18 603.33 61.3 606 61.4 L606 61.4 C603.33 61.5 600.67 61.59 598 61.7 C595.33 61.81 592.67 61.94 590 62.1 C587.83 62.23 585.67 62.28 583.5 62.6 C582.33 62.77 581.17 64.24 580 64.5 C578.2 64.89 576.4 65.2 574.6 65.2 C572.4 65.2 570.2 64.85 568 64.5 C566.33 64.23 564.67 63.22 563 63 C561 62.73 559 62.5 557 62.5 C555.87 62.5 554.73 65.2 553.6 65.2 C551.73 65.2 549.87 62.6 548 62.6 C546.17 62.6 544.33 62.93 542.5 63.1 C540.07 63.32 537.63 63.35 535.2 63.75 C533.8 63.98 532.4 65 531 66.25 C529.63 67.47 528.27 71.16 526.9 73.5 C525.85 75.3 524.8 76.82 523.75 78.75 C523.07 80.01 522.38 82.9 521.7 82.9 C520.97 82.9 520.23 82 519.5 82 C519 82 518.5 83.5 518 83.5 C517.5 83.5 517 81.9 516.5 81.9 C515.83 81.9 515.17 83 514.5 83 C514.1 83 513.7 82.07 513.3 82 C512.97 81.94 512.63 81.9 512.3 81.9 C511.27 81.9 510.23 84.07 509.2 85.5 C508.47 86.52 507.73 87.89 507 89.2 C506.33 90.39 505.67 91.66 505 93 C504.3 94.41 503.6 95.58 502.9 97.5 C502.57 98.41 502.23 100.05 501.9 101 C501.2 102.99 500.5 105.8 499.8 105.8 C497.7 105.8 495.6 105.8 493.5 105.8 C493.3 105.8 493.1 104.73 492.9 104.3 C492.43 103.29 491.97 102.93 491.5 101.7 C491.13 100.74 490.77 98.25 490.4 97 C489.7 94.61 489 93.54 488.3 91.25 C487.62 89.01 486.93 84.2 486.25 82.9 C485.33 81.15 484.42 80.49 483.5 79.6 C482.3 78.43 481.1 77.41 479.9 76.7 C478.7 75.99 477.5 75.56 476.3 75 C475.87 74.8 475.43 74.61 475 74.4 C474.43 74.12 473.87 73.5 473.3 73.5 C472.83 73.5 472.37 73.62 471.9 73.75 C471.07 73.99 470.23 75.02 469.4 76.25 C468.77 77.19 468.13 79.8 467.5 81.25 C466.67 83.16 465.83 84.82 465 86.25 C464.17 87.68 463.33 88.42 462.5 90 C462.08 90.79 461.67 92.37 461.25 93 C461.03 93.33 460.82 93.75 460.6 93.75 C460.2 93.75 459.8 92.96 459.4 92.5 C458.77 91.77 458.13 90 457.5 90 C457.08 90 456.67 92.5 456.25 92.5 C455.83 92.5 455.42 90.5 455 88.75 C454.58 87 454.17 83.07 453.75 80 C453.53 78.4 453.32 76.49 453.1 75 C452.9 73.62 452.7 72.38 452.5 71.25 C452.08 68.9 451.67 65.36 451.25 65 C450.83 64.64 450.42 64.48 450 64.4 C447.92 63.98 445.83 63.75 443.75 63.75 C442.3 63.75 440.85 64.83 439.4 66.25 C438.97 66.67 438.53 68.75 438.1 68.75 C437.7 68.75 437.3 67.54 436.9 66.9 C436.27 65.89 435.63 64.13 435 63.75 C433.75 63 432.5 62.55 431.25 62.5 C429.73 62.44 428.22 62.45 426.7 62.4 C423.13 62.29 419.57 62.02 416 61.8 C414 61.68 412 61.53 410 61.4 Z" fill="#000" />
<clipPath id="cj1"><path d="M410 61.4 C412 61.27 414 61.14 416 61 C419.57 60.75 423.13 60.39 426.7 60.2 C428.22 60.12 429.73 60.13 431.25 60 C432.5 59.9 433.75 59.13 435 58.1 C435.63 57.58 436.27 55.47 436.9 55 C437.3 54.71 437.7 54.4 438.1 54.4 C438.53 54.4 438.97 56.77 439.4 56.9 C440.85 57.34 442.3 57.5 443.75 57.5 C445.83 57.5 447.92 57.23 450 56.25 C450.42 56.05 450.83 53.17 451.25 51.9 C451.67 50.63 452.08 49.84 452.5 48.5 C452.7 47.86 452.9 46.49 453.1 46.25 C453.32 45.99 453.53 45.92 453.75 45.8 C454.17 45.57 454.58 45.25 455 45.25 C455.42 45.25 455.83 45.73 456.25 46 C456.67 46.27 457.08 46.79 457.5 46.9 C458.13 47.07 458.77 47.1 459.4 47.2 C459.8 47.26 460.2 47.34 460.6 47.4 C460.82 47.43 461.03 47.45 461.25 47.5 C461.67 47.59 462.08 47.85 462.5 48 C463.33 48.29 464.17 48.35 465 48.75 C465.83 49.15 466.67 50.71 467.5 51.9 C468.13 52.81 468.77 54.73 469.4 55 C470.23 55.36 471.07 55.6 471.9 55.6 C472.37 55.6 472.83 54.57 473.3 54.1 C473.87 53.53 474.43 53.18 475 52.5 C475.43 51.98 475.87 51.02 476.3 50.4 C477.5 48.69 478.7 47.57 479.9 46 C481.1 44.43 482.3 42.8 483.5 40.9 C484.42 39.45 485.33 37.9 486.25 36 C486.93 34.58 487.62 32.52 488.3 31 C489 29.44 489.7 28.53 490.4 26.7 C490.77 25.74 491.13 24.23 491.5 23 C491.97 21.43 492.43 19.61 492.9 18.3 C493.1 17.74 493.3 16.8 493.5 16.8 C495.6 16.8 497.7 16.8 499.8 16.8 C500.5 16.8 501.2 20.69 501.9 22.5 C502.23 23.36 502.57 24.2 502.9 25 C503.6 26.68 504.3 28.37 505 29.8 C505.67 31.16 506.33 32.36 507 33.5 C507.73 34.76 508.47 35.88 509.2 37 C510.23 38.57 511.27 39.81 512.3 41.5 C512.63 42.05 512.97 43.15 513.3 43.3 C513.7 43.48 514.1 43.6 514.5 43.6 C515.17 43.6 515.83 43.3 516.5 43.3 C517 43.3 517.5 44.26 518 44.5 C518.5 44.74 519 44.78 519.5 45 C520.23 45.32 520.97 45.98 521.7 46.5 C522.38 46.98 523.07 47.47 523.75 48 C524.8 48.81 525.85 49.49 526.9 50.6 C528.27 52.05 529.63 55.66 531 56.9 C532.4 58.17 533.8 59.26 535.2 59.6 C537.63 60.18 540.07 60.6 542.5 60.6 C544.33 60.6 546.17 60.47 548 60.3 C549.87 60.12 551.73 58.3 553.6 58.3 C554.73 58.3 555.87 60.5 557 60.5 C559 60.5 561 60.27 563 60 C564.67 59.78 566.33 58.77 568 58.5 C570.2 58.15 572.4 57.8 574.6 57.8 C576.4 57.8 578.2 58.11 580 58.5 C581.17 58.76 582.33 60.23 583.5 60.4 C585.67 60.72 587.83 60.82 590 60.9 C592.67 61 595.33 61.02 598 61.1 C600.67 61.18 603.33 61.3 606 61.4 L606 61.4 C603.33 61.5 600.67 61.59 598 61.7 C595.33 61.81 592.67 61.94 590 62.1 C587.83 62.23 585.67 62.28 583.5 62.6 C582.33 62.77 581.17 64.24 580 64.5 C578.2 64.89 576.4 65.2 574.6 65.2 C572.4 65.2 570.2 64.85 568 64.5 C566.33 64.23 564.67 63.22 563 63 C561 62.73 559 62.5 557 62.5 C555.87 62.5 554.73 65.2 553.6 65.2 C551.73 65.2 549.87 62.6 548 62.6 C546.17 62.6 544.33 62.93 542.5 63.1 C540.07 63.32 537.63 63.35 535.2 63.75 C533.8 63.98 532.4 65 531 66.25 C529.63 67.47 528.27 71.16 526.9 73.5 C525.85 75.3 524.8 76.82 523.75 78.75 C523.07 80.01 522.38 82.9 521.7 82.9 C520.97 82.9 520.23 82 519.5 82 C519 82 518.5 83.5 518 83.5 C517.5 83.5 517 81.9 516.5 81.9 C515.83 81.9 515.17 83 514.5 83 C514.1 83 513.7 82.07 513.3 82 C512.97 81.94 512.63 81.9 512.3 81.9 C511.27 81.9 510.23 84.07 509.2 85.5 C508.47 86.52 507.73 87.89 507 89.2 C506.33 90.39 505.67 91.66 505 93 C504.3 94.41 503.6 95.58 502.9 97.5 C502.57 98.41 502.23 100.05 501.9 101 C501.2 102.99 500.5 105.8 499.8 105.8 C497.7 105.8 495.6 105.8 493.5 105.8 C493.3 105.8 493.1 104.73 492.9 104.3 C492.43 103.29 491.97 102.93 491.5 101.7 C491.13 100.74 490.77 98.25 490.4 97 C489.7 94.61 489 93.54 488.3 91.25 C487.62 89.01 486.93 84.2 486.25 82.9 C485.33 81.15 484.42 80.49 483.5 79.6 C482.3 78.43 481.1 77.41 479.9 76.7 C478.7 75.99 477.5 75.56 476.3 75 C475.87 74.8 475.43 74.61 475 74.4 C474.43 74.12 473.87 73.5 473.3 73.5 C472.83 73.5 472.37 73.62 471.9 73.75 C471.07 73.99 470.23 75.02 469.4 76.25 C468.77 77.19 468.13 79.8 467.5 81.25 C466.67 83.16 465.83 84.82 465 86.25 C464.17 87.68 463.33 88.42 462.5 90 C462.08 90.79 461.67 92.37 461.25 93 C461.03 93.33 460.82 93.75 460.6 93.75 C460.2 93.75 459.8 92.96 459.4 92.5 C458.77 91.77 458.13 90 457.5 90 C457.08 90 456.67 92.5 456.25 92.5 C455.83 92.5 455.42 90.5 455 88.75 C454.58 87 454.17 83.07 453.75 80 C453.53 78.4 453.32 76.49 453.1 75 C452.9 73.62 452.7 72.38 452.5 71.25 C452.08 68.9 451.67 65.36 451.25 65 C450.83 64.64 450.42 64.48 450 64.4 C447.92 63.98 445.83 63.75 443.75 63.75 C442.3 63.75 440.85 64.83 439.4 66.25 C438.97 66.67 438.53 68.75 438.1 68.75 C437.7 68.75 437.3 67.54 436.9 66.9 C436.27 65.89 435.63 64.13 435 63.75 C433.75 63 432.5 62.55 431.25 62.5 C429.73 62.44 428.22 62.45 426.7 62.4 C423.13 62.29 419.57 62.02 416 61.8 C414 61.68 412 61.53 410 61.4 Z"/></clipPath>
<g clip-path="url(#cj1)"><rect x="434" y="50" width="0.45" height="4.37" fill="#525252"/><rect x="434" y="54.32" width="0.45" height="17.73" fill="#535353"/><rect x="434.4" y="50" width="0.55" height="3.55" fill="#474747"/><rect x="434.4" y="53.5" width="0.55" height="18.55" fill="#484848"/><rect x="434.9" y="50" width="0.55" height="6.59" fill="#111111"/><rect x="434.9" y="56.54" width="0.55" height="15.51" fill="#5a5a5a"/><rect x="435.4" y="50" width="0.65" height="13.16" fill="#4c4c4c"/><rect x="435.4" y="63.11" width="0.65" height="8.94" fill="#525252"/><rect x="436" y="50" width="0.55" height="2.81" fill="#5f5f5f"/><rect x="436" y="52.76" width="0.55" height="19.29" fill="#373737"/><rect x="436.5" y="50" width="0.85" height="0.68" fill="#000000"/><rect x="436.5" y="50.63" width="0.85" height="21.42" fill="#5c5c5c"/><rect x="437.3" y="50" width="0.55" height="7.11" fill="#0b0b0b"/><rect x="437.3" y="57.06" width="0.55" height="14.99" fill="#474747"/><rect x="437.8" y="50" width="0.65" height="4.29" fill="#050505"/><rect x="437.8" y="54.24" width="0.65" height="17.81" fill="#636363"/><rect x="438.4" y="50" width="0.65" height="8.92" fill="#686868"/><rect x="438.4" y="58.87" width="0.65" height="13.18" fill="#666666"/><rect x="439" y="50" width="0.55" height="20.66" fill="#3c3c3c"/><rect x="439" y="70.61" width="0.55" height="1.44" fill="#616161"/><rect x="439.5" y="50" width="0.85" height="0.61" fill="#5c5c5c"/><rect x="439.5" y="50.56" width="0.85" height="21.49" fill="#6d6d6d"/></g>
<g clip-path="url(#cj1)"><rect x="440" y="50" width="0.45" height="4.05" fill="#232323"/><rect x="440" y="54" width="0.45" height="18.05" fill="#424242"/><rect x="440.4" y="50" width="0.45" height="8.95" fill="#0f0f0f"/><rect x="440.4" y="58.9" width="0.45" height="13.15" fill="#252525"/><rect x="440.8" y="50" width="0.65" height="13.9" fill="#4d4d4d"/><rect x="440.8" y="63.85" width="0.65" height="8.2" fill="#0a0a0a"/><rect x="441.4" y="50" width="0.85" height="14.79" fill="#3a3a3a"/><rect x="441.4" y="64.74" width="0.85" height="7.31" fill="#232323"/><rect x="442.2" y="50" width="0.65" height="19.87" fill="#494949"/><rect x="442.2" y="69.82" width="0.65" height="2.23" fill="#404040"/><rect x="442.8" y="50" width="0.45" height="0.87" fill="#2d2d2d"/><rect x="442.8" y="50.82" width="0.45" height="21.23" fill="#2f2f2f"/><rect x="443.2" y="50" width="0.85" height="15.33" fill="#313131"/><rect x="443.2" y="65.28" width="0.85" height="6.77" fill="#010101"/><rect x="444" y="50" width="0.85" height="9.79" fill="#2f2f2f"/><rect x="444" y="59.74" width="0.85" height="12.31" fill="#404040"/><rect x="444.8" y="50" width="0.85" height="11.24" fill="#0d0d0d"/><rect x="444.8" y="61.19" width="0.85" height="10.86" fill="#484848"/><rect x="445.6" y="50" width="0.85" height="16.81" fill="#202020"/><rect x="445.6" y="66.76" width="0.85" height="5.29" fill="#0a0a0a"/><rect x="446.4" y="50" width="0.55" height="12.02" fill="#070707"/><rect x="446.4" y="61.97" width="0.55" height="10.08" fill="#060606"/><rect x="446.9" y="50" width="0.55" height="15.15" fill="#0e0e0e"/><rect x="446.9" y="65.1" width="0.55" height="6.95" fill="#1e1e1e"/><rect x="447.4" y="50" width="0.55" height="20.64" fill="#111111"/><rect x="447.4" y="70.59" width="0.55" height="1.46" fill="#252525"/><rect x="447.9" y="50" width="0.65" height="13.9" fill="#121212"/><rect x="447.9" y="63.85" width="0.65" height="8.2" fill="#131313"/><rect x="448.5" y="50" width="0.85" height="18.34" fill="#070707"/><rect x="448.5" y="68.29" width="0.85" height="3.76" fill="#050505"/><rect x="449.3" y="50" width="0.55" height="2.48" fill="#2d2d2d"/><rect x="449.3" y="52.43" width="0.55" height="19.62" fill="#0b0b0b"/><rect x="449.8" y="50" width="0.65" height="3.75" fill="#131313"/><rect x="449.8" y="53.7" width="0.65" height="18.35" fill="#0e0e0e"/><rect x="450.4" y="50" width="0.65" height="2.44" fill="#030303"/><rect x="450.4" y="52.39" width="0.65" height="19.66" fill="#121212"/><rect x="451" y="50" width="0.65" height="13.86" fill="#4c4c4c"/><rect x="451" y="63.81" width="0.65" height="8.24" fill="#020202"/><rect x="451.6" y="50" width="0.45" height="0.61" fill="#070707"/><rect x="451.6" y="50.56" width="0.45" height="21.49" fill="#4e4e4e"/></g>
<g clip-path="url(#cj1)"><rect x="454.2" y="40" width="0.9" height="60" fill="#3a3a3a"/><rect x="457.4" y="40" width="0.9" height="60" fill="#3a3a3a"/><rect x="460.5" y="40" width="0.9" height="60" fill="#3a3a3a"/><rect x="463.2" y="40" width="0.9" height="60" fill="#3a3a3a"/></g>
<path d="M418 173.9 C419.93 173.67 421.87 173.4 423.8 173.2 C427.3 172.84 430.8 172.85 434.3 172.3 C435.73 172.08 437.17 170.95 438.6 170.5 C439.77 170.13 440.93 169.6 442.1 169.6 C443.57 169.6 445.03 170.86 446.5 171.2 C447.67 171.47 448.83 171.6 450 171.8 C451.17 172 452.33 172.22 453.5 172.4 C454.97 172.62 456.43 173 457.9 173 C459.37 173 460.83 172.68 462.3 172.3 C463.47 172 464.63 170.64 465.8 170.1 C466.97 169.56 468.13 168.8 469.3 168.8 C470.87 168.8 472.43 169.83 474 170 C476.03 170.22 478.07 170.4 480.1 170.4 C481.73 170.4 483.37 169.91 485 169.5 C486.87 169.04 488.73 168.14 490.6 167.3 C492.07 166.64 493.53 165.91 495 165 C496.33 164.18 497.67 162.9 499 162 C499.7 161.53 500.4 160.7 501.1 160.7 C501.73 160.7 502.37 162.51 503 163.5 C504 165.06 505 167.33 506 168.5 C507 169.67 508 170.69 509 171.2 C510.33 171.89 511.67 172.21 513 172.6 C514.3 172.98 515.6 173.6 516.9 173.6 C517.93 173.6 518.97 172.33 520 171.5 C521.13 170.59 522.27 168.1 523.4 168.1 C524.6 168.1 525.8 170.03 527 170.5 C528.87 171.24 530.73 172 532.6 172 C533.9 172 535.2 172 536.5 172 C539.6 172 542.7 172.5 545.8 172.5 C549.7 172.5 553.6 172.5 557.5 172.5 C559.33 172.5 561.17 171.97 563 171.5 C565.4 170.88 567.8 168.1 570.2 168.1 C571.47 168.1 572.73 169.74 574 170.5 C575.33 171.3 576.67 172.59 578 172.8 C579.07 172.97 580.13 173.1 581.2 173.1 C582.47 173.1 583.73 172.5 585 172.3 C586.33 172.09 587.67 171.8 589 171.8 C590.67 171.8 592.33 172.27 594 172.5 C596 172.77 598 173.15 600 173.3 C601.17 173.39 602.33 173.48 603.5 173.5 C609 173.57 614.5 173.57 620 173.6 L620 174.3 C614.5 174.33 609 174.33 603.5 174.4 C602.33 174.42 601.17 174.51 600 174.6 C598 174.75 596 175.15 594 175.4 C592.33 175.61 590.67 176 589 176 C587.67 176 586.33 175.76 585 175.6 C583.73 175.44 582.47 175 581.2 175 C580.13 175 579.07 175.09 578 175.2 C576.67 175.34 575.33 176.48 574 177 C572.73 177.49 571.47 178.3 570.2 178.3 C567.8 178.3 565.4 177 563 176.5 C561.17 176.12 559.33 175.5 557.5 175.5 C553.6 175.5 549.7 175.5 545.8 175.5 C542.7 175.5 539.6 176 536.5 176 C535.2 176 533.9 176 532.6 176 C530.73 176 528.87 177.01 527 177.8 C525.8 178.31 524.6 179.9 523.4 179.9 C522.27 179.9 521.13 177.41 520 176.5 C518.97 175.67 517.93 174.4 516.9 174.4 C515.6 174.4 514.3 175.05 513 175.5 C511.67 175.96 510.33 176.44 509 177.3 C508 177.95 507 179.11 506 180.5 C505 181.89 504 184.34 503 186.5 C502.37 187.87 501.73 190.9 501.1 190.9 C500.4 190.9 499.7 187.94 499 187 C497.67 185.21 496.33 183.97 495 183 C493.53 181.93 492.07 181.15 490.6 180.5 C488.73 179.67 486.87 178.95 485 178.5 C483.37 178.11 481.73 177.6 480.1 177.6 C478.07 177.6 476.03 177.78 474 178 C472.43 178.17 470.87 179.3 469.3 179.3 C468.13 179.3 466.97 178.16 465.8 177.5 C464.63 176.84 463.47 175.49 462.3 175.3 C460.83 175.06 459.37 174.9 457.9 174.9 C456.43 174.9 454.97 175.14 453.5 175.3 C452.33 175.43 451.17 175.65 450 175.8 C448.83 175.95 447.67 176.01 446.5 176.2 C445.03 176.44 443.57 177.5 442.1 177.5 C440.93 177.5 439.77 176.85 438.6 176.5 C437.17 176.06 435.73 175.25 434.3 175.1 C430.8 174.72 427.3 174.77 423.8 174.5 C421.87 174.35 419.93 174.1 418 173.9 Z" fill="#000" />
<clipPath id="cj2"><path d="M418 173.9 C419.93 173.67 421.87 173.4 423.8 173.2 C427.3 172.84 430.8 172.85 434.3 172.3 C435.73 172.08 437.17 170.95 438.6 170.5 C439.77 170.13 440.93 169.6 442.1 169.6 C443.57 169.6 445.03 170.86 446.5 171.2 C447.67 171.47 448.83 171.6 450 171.8 C451.17 172 452.33 172.22 453.5 172.4 C454.97 172.62 456.43 173 457.9 173 C459.37 173 460.83 172.68 462.3 172.3 C463.47 172 464.63 170.64 465.8 170.1 C466.97 169.56 468.13 168.8 469.3 168.8 C470.87 168.8 472.43 169.83 474 170 C476.03 170.22 478.07 170.4 480.1 170.4 C481.73 170.4 483.37 169.91 485 169.5 C486.87 169.04 488.73 168.14 490.6 167.3 C492.07 166.64 493.53 165.91 495 165 C496.33 164.18 497.67 162.9 499 162 C499.7 161.53 500.4 160.7 501.1 160.7 C501.73 160.7 502.37 162.51 503 163.5 C504 165.06 505 167.33 506 168.5 C507 169.67 508 170.69 509 171.2 C510.33 171.89 511.67 172.21 513 172.6 C514.3 172.98 515.6 173.6 516.9 173.6 C517.93 173.6 518.97 172.33 520 171.5 C521.13 170.59 522.27 168.1 523.4 168.1 C524.6 168.1 525.8 170.03 527 170.5 C528.87 171.24 530.73 172 532.6 172 C533.9 172 535.2 172 536.5 172 C539.6 172 542.7 172.5 545.8 172.5 C549.7 172.5 553.6 172.5 557.5 172.5 C559.33 172.5 561.17 171.97 563 171.5 C565.4 170.88 567.8 168.1 570.2 168.1 C571.47 168.1 572.73 169.74 574 170.5 C575.33 171.3 576.67 172.59 578 172.8 C579.07 172.97 580.13 173.1 581.2 173.1 C582.47 173.1 583.73 172.5 585 172.3 C586.33 172.09 587.67 171.8 589 171.8 C590.67 171.8 592.33 172.27 594 172.5 C596 172.77 598 173.15 600 173.3 C601.17 173.39 602.33 173.48 603.5 173.5 C609 173.57 614.5 173.57 620 173.6 L620 174.3 C614.5 174.33 609 174.33 603.5 174.4 C602.33 174.42 601.17 174.51 600 174.6 C598 174.75 596 175.15 594 175.4 C592.33 175.61 590.67 176 589 176 C587.67 176 586.33 175.76 585 175.6 C583.73 175.44 582.47 175 581.2 175 C580.13 175 579.07 175.09 578 175.2 C576.67 175.34 575.33 176.48 574 177 C572.73 177.49 571.47 178.3 570.2 178.3 C567.8 178.3 565.4 177 563 176.5 C561.17 176.12 559.33 175.5 557.5 175.5 C553.6 175.5 549.7 175.5 545.8 175.5 C542.7 175.5 539.6 176 536.5 176 C535.2 176 533.9 176 532.6 176 C530.73 176 528.87 177.01 527 177.8 C525.8 178.31 524.6 179.9 523.4 179.9 C522.27 179.9 521.13 177.41 520 176.5 C518.97 175.67 517.93 174.4 516.9 174.4 C515.6 174.4 514.3 175.05 513 175.5 C511.67 175.96 510.33 176.44 509 177.3 C508 177.95 507 179.11 506 180.5 C505 181.89 504 184.34 503 186.5 C502.37 187.87 501.73 190.9 501.1 190.9 C500.4 190.9 499.7 187.94 499 187 C497.67 185.21 496.33 183.97 495 183 C493.53 181.93 492.07 181.15 490.6 180.5 C488.73 179.67 486.87 178.95 485 178.5 C483.37 178.11 481.73 177.6 480.1 177.6 C478.07 177.6 476.03 177.78 474 178 C472.43 178.17 470.87 179.3 469.3 179.3 C468.13 179.3 466.97 178.16 465.8 177.5 C464.63 176.84 463.47 175.49 462.3 175.3 C460.83 175.06 459.37 174.9 457.9 174.9 C456.43 174.9 454.97 175.14 453.5 175.3 C452.33 175.43 451.17 175.65 450 175.8 C448.83 175.95 447.67 176.01 446.5 176.2 C445.03 176.44 443.57 177.5 442.1 177.5 C440.93 177.5 439.77 176.85 438.6 176.5 C437.17 176.06 435.73 175.25 434.3 175.1 C430.8 174.72 427.3 174.77 423.8 174.5 C421.87 174.35 419.93 174.1 418 173.9 Z"/></clipPath>
<g clip-path="url(#cj2)"><rect x="419" y="170" width="0.55" height="0.87" fill="#4b4b4b"/><rect x="419" y="170.82" width="0.55" height="7.23" fill="#464646"/><rect x="419.5" y="170" width="0.65" height="2.61" fill="#3a3a3a"/><rect x="419.5" y="172.56" width="0.65" height="5.49" fill="#3a3a3a"/><rect x="420.1" y="170" width="0.55" height="0.51" fill="#2d2d2d"/><rect x="420.1" y="170.46" width="0.55" height="7.59" fill="#565656"/><rect x="420.6" y="170" width="0.85" height="7.29" fill="#575757"/><rect x="420.6" y="177.24" width="0.85" height="0.81" fill="#050505"/><rect x="421.4" y="170" width="0.45" height="1.19" fill="#0c0c0c"/><rect x="421.4" y="171.14" width="0.45" height="6.91" fill="#3c3c3c"/><rect x="421.8" y="170" width="0.85" height="3.89" fill="#323232"/><rect x="421.8" y="173.84" width="0.85" height="4.21" fill="#292929"/><rect x="422.6" y="170" width="0.85" height="1.2" fill="#0e0e0e"/><rect x="422.6" y="171.15" width="0.85" height="6.9" fill="#000000"/><rect x="423.4" y="170" width="0.55" height="7.28" fill="#080808"/><rect x="423.4" y="177.23" width="0.55" height="0.82" fill="#444444"/><rect x="423.9" y="170" width="0.55" height="3.8" fill="#434343"/><rect x="423.9" y="173.75" width="0.55" height="4.3" fill="#3d3d3d"/><rect x="424.4" y="170" width="0.55" height="7.84" fill="#585858"/><rect x="424.4" y="177.79" width="0.55" height="0.26" fill="#0d0d0d"/><rect x="424.9" y="170" width="0.65" height="4.57" fill="#3d3d3d"/><rect x="424.9" y="174.52" width="0.65" height="3.53" fill="#111111"/><rect x="425.5" y="170" width="0.45" height="6.83" fill="#333333"/><rect x="425.5" y="176.78" width="0.45" height="1.27" fill="#0b0b0b"/><rect x="425.9" y="170" width="0.85" height="2.93" fill="#343434"/><rect x="425.9" y="172.88" width="0.85" height="5.17" fill="#131313"/><rect x="426.7" y="170" width="0.55" height="4.43" fill="#2d2d2d"/><rect x="426.7" y="174.38" width="0.55" height="3.67" fill="#0a0a0a"/><rect x="427.2" y="170" width="0.65" height="5.72" fill="#333333"/><rect x="427.2" y="175.67" width="0.65" height="2.38" fill="#434343"/><rect x="427.8" y="170" width="0.45" height="6.86" fill="#494949"/><rect x="427.8" y="176.81" width="0.45" height="1.24" fill="#2e2e2e"/><rect x="428.2" y="170" width="0.45" height="5.06" fill="#585858"/><rect x="428.2" y="175.01" width="0.45" height="3.04" fill="#3e3e3e"/><rect x="428.6" y="170" width="0.55" height="7.79" fill="#313131"/><rect x="428.6" y="177.74" width="0.55" height="0.31" fill="#2c2c2c"/><rect x="429.1" y="170" width="0.45" height="3.28" fill="#0e0e0e"/><rect x="429.1" y="173.23" width="0.45" height="4.82" fill="#575757"/><rect x="429.5" y="170" width="0.45" height="5.71" fill="#3d3d3d"/><rect x="429.5" y="175.66" width="0.45" height="2.39" fill="#474747"/><rect x="429.9" y="170" width="0.45" height="7.39" fill="#0e0e0e"/><rect x="429.9" y="177.34" width="0.45" height="0.71" fill="#393939"/><rect x="430.3" y="170" width="0.45" height="6.66" fill="#2e2e2e"/><rect x="430.3" y="176.61" width="0.45" height="1.44" fill="#4c4c4c"/><rect x="430.7" y="170" width="0.85" height="0.4" fill="#0a0a0a"/><rect x="430.7" y="170.35" width="0.85" height="7.7" fill="#121212"/><rect x="431.5" y="170" width="0.55" height="2.09" fill="#313131"/><rect x="431.5" y="172.04" width="0.55" height="6.01" fill="#515151"/><rect x="432" y="170" width="0.45" height="6.38" fill="#050505"/><rect x="432" y="176.33" width="0.45" height="1.72" fill="#2f2f2f"/></g>
<g clip-path="url(#cj2)"><rect x="432" y="166" width="0.85" height="8.87" fill="#434343"/><rect x="432" y="174.82" width="0.85" height="3.77" fill="#080808"/><rect x="432" y="178.54" width="0.85" height="2.51" fill="#333333"/><rect x="432.8" y="166" width="0.85" height="7.58" fill="#030303"/><rect x="432.8" y="173.53" width="0.85" height="5.62" fill="#6b6b6b"/><rect x="432.8" y="179.1" width="0.85" height="1.95" fill="#4d4d4d"/><rect x="433.6" y="166" width="0.55" height="6.78" fill="#424242"/><rect x="433.6" y="172.73" width="0.55" height="3.71" fill="#565656"/><rect x="433.6" y="176.39" width="0.55" height="4.66" fill="#020202"/><rect x="434.1" y="166" width="0.45" height="3.22" fill="#090909"/><rect x="434.1" y="169.17" width="0.45" height="9.17" fill="#060606"/><rect x="434.1" y="178.29" width="0.45" height="2.76" fill="#040404"/><rect x="434.5" y="166" width="0.45" height="9.51" fill="#3c3c3c"/><rect x="434.5" y="175.46" width="0.45" height="1.49" fill="#363636"/><rect x="434.5" y="176.9" width="0.45" height="4.15" fill="#4a4a4a"/><rect x="434.9" y="166" width="0.55" height="0.56" fill="#595959"/><rect x="434.9" y="166.51" width="0.55" height="14.42" fill="#6f6f6f"/><rect x="434.9" y="180.88" width="0.55" height="0.17" fill="#5e5e5e"/><rect x="435.4" y="166" width="0.65" height="11.93" fill="#424242"/><rect x="435.4" y="177.88" width="0.65" height="0.07" fill="#131313"/><rect x="435.4" y="177.9" width="0.65" height="3.15" fill="#494949"/><rect x="436" y="166" width="0.55" height="5.31" fill="#060606"/><rect x="436" y="171.26" width="0.55" height="3.05" fill="#484848"/><rect x="436" y="174.26" width="0.55" height="6.79" fill="#535353"/><rect x="436.5" y="166" width="0.55" height="12.19" fill="#111111"/><rect x="436.5" y="178.14" width="0.55" height="2.86" fill="#606060"/><rect x="436.5" y="180.95" width="0.55" height="0.1" fill="#4d4d4d"/><rect x="437" y="166" width="0.55" height="2.21" fill="#0b0b0b"/><rect x="437" y="168.16" width="0.55" height="6.69" fill="#606060"/><rect x="437" y="174.8" width="0.55" height="6.25" fill="#121212"/><rect x="437.5" y="166" width="0.55" height="4.61" fill="#525252"/><rect x="437.5" y="170.56" width="0.55" height="0.79" fill="#626262"/><rect x="437.5" y="171.3" width="0.55" height="9.75" fill="#727272"/><rect x="438" y="166" width="0.65" height="4.19" fill="#030303"/><rect x="438" y="170.14" width="0.65" height="9.4" fill="#444444"/><rect x="438" y="179.49" width="0.65" height="1.56" fill="#414141"/><rect x="438.6" y="166" width="0.55" height="4.29" fill="#040404"/><rect x="438.6" y="170.24" width="0.55" height="9.2" fill="#000000"/><rect x="438.6" y="179.39" width="0.55" height="1.66" fill="#373737"/><rect x="439.1" y="166" width="0.65" height="0.13" fill="#444444"/><rect x="439.1" y="166.08" width="0.65" height="10.76" fill="#000000"/><rect x="439.1" y="176.79" width="0.65" height="4.26" fill="#484848"/><rect x="439.7" y="166" width="0.45" height="6.13" fill="#010101"/><rect x="439.7" y="172.08" width="0.45" height="3.7" fill="#0c0c0c"/><rect x="439.7" y="175.73" width="0.45" height="5.32" fill="#494949"/><rect x="440.1" y="166" width="0.85" height="3.91" fill="#323232"/><rect x="440.1" y="169.86" width="0.85" height="3.15" fill="#595959"/><rect x="440.1" y="172.95" width="0.85" height="8.1" fill="#353535"/><rect x="440.9" y="166" width="0.65" height="0.33" fill="#404040"/><rect x="440.9" y="166.28" width="0.65" height="2.12" fill="#6c6c6c"/><rect x="440.9" y="168.35" width="0.65" height="12.7" fill="#0d0d0d"/><rect x="441.5" y="166" width="0.55" height="9.07" fill="#494949"/><rect x="441.5" y="175.02" width="0.55" height="0.89" fill="#444444"/><rect x="441.5" y="175.86" width="0.55" height="5.19" fill="#676767"/><rect x="442" y="166" width="0.65" height="8.29" fill="#636363"/><rect x="442" y="174.24" width="0.65" height="1.58" fill="#4b4b4b"/><rect x="442" y="175.77" width="0.65" height="5.28" fill="#0b0b0b"/><rect x="442.6" y="166" width="0.45" height="9.88" fill="#4b4b4b"/><rect x="442.6" y="175.83" width="0.45" height="1.83" fill="#414141"/><rect x="442.6" y="177.61" width="0.45" height="3.44" fill="#020202"/><rect x="443" y="166" width="0.45" height="3.12" fill="#0c0c0c"/><rect x="443" y="169.07" width="0.45" height="5.12" fill="#656565"/><rect x="443" y="174.15" width="0.45" height="6.9" fill="#6e6e6e"/><rect x="443.4" y="166" width="0.55" height="5.31" fill="#636363"/><rect x="443.4" y="171.26" width="0.55" height="2.72" fill="#121212"/><rect x="443.4" y="173.93" width="0.55" height="7.12" fill="#717171"/><rect x="443.9" y="166" width="0.55" height="4.91" fill="#393939"/><rect x="443.9" y="170.86" width="0.55" height="8.75" fill="#363636"/><rect x="443.9" y="179.55" width="0.55" height="1.5" fill="#4e4e4e"/><rect x="444.4" y="166" width="0.45" height="3.47" fill="#717171"/><rect x="444.4" y="169.42" width="0.45" height="2.27" fill="#5f5f5f"/><rect x="444.4" y="171.64" width="0.45" height="9.41" fill="#0e0e0e"/><rect x="444.8" y="166" width="0.55" height="3.1" fill="#676767"/><rect x="444.8" y="169.05" width="0.55" height="0.47" fill="#464646"/><rect x="444.8" y="169.47" width="0.55" height="11.58" fill="#414141"/><rect x="445.3" y="166" width="0.55" height="7.21" fill="#676767"/><rect x="445.3" y="173.16" width="0.55" height="6.9" fill="#010101"/><rect x="445.3" y="180.01" width="0.55" height="1.04" fill="#323232"/><rect x="445.8" y="166" width="0.55" height="2.47" fill="#5b5b5b"/><rect x="445.8" y="168.42" width="0.55" height="7.87" fill="#5a5a5a"/><rect x="445.8" y="176.24" width="0.55" height="4.81" fill="#404040"/><rect x="446.3" y="166" width="0.65" height="0.74" fill="#505050"/><rect x="446.3" y="166.69" width="0.65" height="10.97" fill="#3b3b3b"/><rect x="446.3" y="177.61" width="0.65" height="3.44" fill="#616161"/><rect x="446.9" y="166" width="0.55" height="0.19" fill="#0e0e0e"/><rect x="446.9" y="166.14" width="0.55" height="14.52" fill="#0d0d0d"/><rect x="446.9" y="180.62" width="0.55" height="0.43" fill="#121212"/><rect x="447.4" y="166" width="0.85" height="13.28" fill="#0f0f0f"/><rect x="447.4" y="179.23" width="0.85" height="1.52" fill="#0a0a0a"/><rect x="447.4" y="180.69" width="0.85" height="0.36" fill="#424242"/><rect x="448.2" y="166" width="0.45" height="0.77" fill="#020202"/><rect x="448.2" y="166.72" width="0.45" height="10.25" fill="#757575"/><rect x="448.2" y="176.93" width="0.45" height="4.12" fill="#040404"/><rect x="448.6" y="166" width="0.55" height="8.23" fill="#777777"/><rect x="448.6" y="174.18" width="0.55" height="1.37" fill="#6c6c6c"/><rect x="448.6" y="175.5" width="0.55" height="5.55" fill="#373737"/><rect x="449.1" y="166" width="0.55" height="4.14" fill="#010101"/><rect x="449.1" y="170.09" width="0.55" height="6.93" fill="#353535"/><rect x="449.1" y="176.97" width="0.55" height="4.08" fill="#4e4e4e"/><rect x="449.6" y="166" width="0.65" height="4.06" fill="#343434"/><rect x="449.6" y="170.01" width="0.65" height="0.93" fill="#080808"/><rect x="449.6" y="170.89" width="0.65" height="10.16" fill="#777777"/><rect x="450.2" y="166" width="0.65" height="4.82" fill="#4f4f4f"/><rect x="450.2" y="170.77" width="0.65" height="1.27" fill="#4d4d4d"/><rect x="450.2" y="171.99" width="0.65" height="9.06" fill="#131313"/><rect x="450.8" y="166" width="0.45" height="3.64" fill="#777777"/><rect x="450.8" y="169.59" width="0.45" height="3.98" fill="#656565"/><rect x="450.8" y="173.52" width="0.45" height="7.53" fill="#6b6b6b"/><rect x="451.2" y="166" width="0.45" height="11.81" fill="#0d0d0d"/><rect x="451.2" y="177.76" width="0.45" height="0.94" fill="#484848"/><rect x="451.2" y="178.65" width="0.45" height="2.4" fill="#131313"/><rect x="451.6" y="166" width="0.45" height="7.15" fill="#0a0a0a"/><rect x="451.6" y="173.1" width="0.45" height="2.66" fill="#4c4c4c"/><rect x="451.6" y="175.71" width="0.45" height="5.34" fill="#696969"/></g>
<path d="M412 290.1 C414.67 289.87 417.33 289.69 420 289.4 C422.07 289.17 424.13 288.5 426.2 288.5 C429.13 288.5 432.07 289 435 289 C437.07 289 439.13 288.81 441.2 288.5 C442.27 288.34 443.33 287.59 444.4 286.9 C445.63 286.11 446.87 283.5 448.1 283.5 C449.13 283.5 450.17 284.72 451.2 285 C453.5 285.63 455.8 286.2 458.1 286.2 C459.13 286.2 460.17 285.25 461.2 284.4 C462.47 283.36 463.73 279.32 465 278.7 C465.63 278.39 466.27 278.1 466.9 278.1 C468.33 278.1 469.77 278.1 471.2 278.1 C472.47 278.1 473.73 276.68 475 275.6 C476.47 274.35 477.93 272.19 479.4 270.2 C480.77 268.35 482.13 267.01 483.5 264 C484.2 262.46 484.9 259.41 485.6 256.7 C485.97 255.28 486.33 253.91 486.7 252 C487.03 250.27 487.37 245.4 487.7 245.4 C490.3 245.4 492.9 245.4 495.5 245.4 C496.03 245.4 496.57 248.55 497.1 250.4 C497.8 252.83 498.5 256.45 499.2 258.7 C499.53 259.77 499.87 260.68 500.2 261.5 C500.9 263.23 501.6 264.59 502.3 266 C503 267.41 503.7 268.79 504.4 270 C505.1 271.21 505.8 272.22 506.5 273.3 C507.53 274.9 508.57 276.97 509.6 278 C510.3 278.7 511 278.86 511.7 279.6 C512.73 280.69 513.77 283.73 514.8 285.5 C515.37 286.47 515.93 288.2 516.5 288.2 C517.33 288.2 518.17 281.7 519 281.7 C520.73 281.7 522.47 284.02 524.2 284.8 C526.13 285.67 528.07 286.24 530 286.9 C531.67 287.47 533.33 288.14 535 288.5 C536.67 288.86 538.33 289.3 540 289.3 C542.5 289.3 545 289.21 547.5 289 C548.75 288.9 550 287.96 551.25 286.9 C552.08 286.2 552.92 284.17 553.75 283.1 C554.5 282.14 555.25 280.6 556 280.6 C556.5 280.6 557 282.31 557.5 283.1 C557.92 283.76 558.33 285 558.75 285 C559.17 285 559.58 283.6 560 283.6 C561.03 283.6 562.07 285.22 563.1 285.6 C563.93 285.9 564.77 286.25 565.6 286.25 C566.23 286.25 566.87 282.92 567.5 281.25 C568.13 279.58 568.77 277.3 569.4 276.25 C569.8 275.59 570.2 274.75 570.6 274.75 C571.23 274.75 571.87 276.39 572.5 276.9 C573.13 277.41 573.77 277.55 574.4 278.1 C575.02 278.63 575.63 280.6 576.25 280.6 C576.6 280.6 576.95 278.55 577.3 277 C577.5 276.12 577.7 273.5 577.9 273.5 C578.07 273.5 578.23 275.41 578.4 277 C578.52 278.11 578.63 281.63 578.75 281.9 C579.37 283.33 579.98 283.75 580.6 283.75 C581.65 283.75 582.7 280.6 583.75 280.6 C584.37 280.6 584.98 283.23 585.6 284.4 C586.43 285.98 587.27 288.46 588.1 288.75 C589.07 289.09 590.03 289.3 591 289.3 C592.33 289.3 593.67 289.26 595 289.2 C595.67 289.17 596.33 288.92 597 288.8 C598 288.62 599 288.3 600 288.3 C601 288.3 602 288.6 603 288.8 C603.67 288.94 604.33 289.3 605 289.3 C605.6 289.3 606.2 289.02 606.8 288 C606.93 287.77 607.07 284 607.2 282 C607.3 280.5 607.4 277.5 607.5 277.5 C607.6 277.5 607.7 281.29 607.8 282 C607.97 283.19 608.13 283.83 608.3 284.2 C608.87 285.46 609.43 286.05 610 286.4 C610.57 286.75 611.13 287.1 611.7 287.1 C612.3 287.1 612.9 286.8 613.5 286.5 C614 286.25 614.5 285.58 615 285 C615.6 284.31 616.2 282.5 616.8 282.5 C617.3 282.5 617.8 285.77 618.3 286.7 C618.6 287.26 618.9 288 619.2 288 C619.53 288 619.87 287.6 620.2 287.6 C620.63 287.6 621.07 288.67 621.5 289 C621.83 289.25 622.17 289.6 622.5 289.6 C623.33 289.6 624.17 289.6 625 289.6 C625.5 289.6 626 289.12 626.5 288.5 C626.83 288.09 627.17 285.4 627.5 285.4 C627.83 285.4 628.17 288.12 628.5 288.5 C629 289.07 629.5 289.45 630 289.5 C631.33 289.64 632.67 289.7 634 289.7 C634.9 289.7 635.8 289.3 636.7 289.3 C637.3 289.3 637.9 289.78 638.5 289.8 C640.67 289.88 642.83 289.87 645 289.9 L645 290.2 C642.83 290.23 640.67 290.22 638.5 290.3 C637.9 290.32 637.3 290.8 636.7 290.8 C635.8 290.8 634.9 290.4 634 290.4 C632.67 290.4 631.33 290.46 630 290.6 C629.5 290.65 629 291.15 628.5 291.8 C628.17 292.23 627.83 294.6 627.5 294.6 C627.17 294.6 626.83 292.23 626.5 291.8 C626 291.15 625.5 290.6 625 290.6 C624.17 290.6 623.33 290.67 622.5 290.8 C622.17 290.85 621.83 291.14 621.5 291.4 C621.07 291.74 620.63 293 620.2 293 C619.87 293 619.53 292.5 619.2 292.5 C618.9 292.5 618.6 293.59 618.3 294.2 C617.8 295.21 617.3 297.5 616.8 297.5 C616.2 297.5 615.6 295.32 615 295 C614.5 294.74 614 294.68 613.5 294.5 C612.9 294.28 612.3 293.75 611.7 293.75 C611.13 293.75 610.57 293.87 610 294 C609.43 294.13 608.87 294.29 608.3 295 C608.13 295.21 607.97 296.52 607.8 298 C607.7 298.89 607.6 302.5 607.5 302.5 C607.4 302.5 607.3 299.44 607.2 298 C607.07 296.08 606.93 292.79 606.8 292.5 C606.2 291.2 605.6 290.8 605 290.8 C604.33 290.8 603.67 291.09 603 291.2 C602 291.36 601 291.6 600 291.6 C599 291.6 598 291.36 597 291.2 C596.33 291.09 595.67 290.83 595 290.8 C593.67 290.74 592.33 290.7 591 290.7 C590.03 290.7 589.07 291.05 588.1 291.5 C587.27 291.89 586.43 293.85 585.6 295 C584.98 295.85 584.37 297.5 583.75 297.5 C582.7 297.5 581.65 295.6 580.6 295.6 C579.98 295.6 579.37 296.65 578.75 298.75 C578.63 299.15 578.52 301.25 578.4 302 C578.23 303.07 578.07 304.4 577.9 304.4 C577.67 304.4 577.43 302.17 577.2 302 C576.47 301.47 575.73 301.25 575 301.25 C574.17 301.25 573.33 303.75 572.5 303.75 C571.67 303.75 570.83 303.49 570 303.1 C569.17 302.71 568.33 299.24 567.5 297.5 C566.87 296.17 566.23 293.75 565.6 293.75 C564.9 293.75 564.2 294.62 563.5 295 C562.67 295.45 561.83 296.25 561 296.25 C560.25 296.25 559.5 295 558.75 295 C557.83 295 556.92 298.1 556 298.1 C555.25 298.1 554.5 296.99 553.75 296.25 C552.92 295.42 552.08 293.76 551.25 293.1 C550 292.11 548.75 291.07 547.5 291 C545 290.86 542.5 290.8 540 290.8 C538.33 290.8 536.67 291.15 535 291.5 C533.33 291.85 531.67 292.93 530 293.5 C528.07 294.16 526.13 294.44 524.2 295.2 C522.47 295.89 520.73 298.3 519 298.3 C518.17 298.3 517.33 292 516.5 292 C515.93 292 515.37 293.35 514.8 294.2 C513.77 295.75 512.73 298.52 511.7 300 C511 301 510.3 301.9 509.6 302.5 C508.57 303.38 507.53 303.66 506.5 304.5 C505.8 305.07 505.1 305.88 504.4 306.7 C503.7 307.52 503 308.48 502.3 309.5 C501.6 310.52 500.9 311.07 500.2 312.9 C499.87 313.77 499.53 316.83 499.2 318 C498.5 320.46 497.8 320.7 497.1 323.3 C496.57 325.28 496.03 333.7 495.5 333.7 C492.9 333.7 490.3 333.7 487.7 333.7 C487.37 333.7 487.03 325.51 486.7 323.3 C486.33 320.87 485.97 319.23 485.6 318 C484.9 315.66 484.2 314.24 483.5 312.9 C482.13 310.29 480.77 308.69 479.4 306.7 C477.93 304.56 476.47 300.5 475 300.5 C473.73 300.5 472.47 300.88 471.2 301.2 C469.77 301.56 468.33 302.44 466.9 303 C466.27 303.25 465.63 303.7 465 303.7 C463.73 303.7 462.47 299.44 461.2 298.7 C460.17 298.09 459.13 297.66 458.1 297.5 C455.8 297.14 453.5 296.9 451.2 296.9 C450.17 296.9 449.13 298.1 448.1 298.1 C446.87 298.1 445.63 295.11 444.4 294.4 C443.33 293.79 442.27 293.34 441.2 293.1 C439.13 292.63 437.07 292.2 435 292.2 C432.07 292.2 429.13 292.2 426.2 292.2 C424.13 292.2 422.07 290.94 420 290.7 C417.33 290.39 414.67 290.3 412 290.1 Z" fill="#000" />
<clipPath id="bp2"><path d="M412 290.1 C414.67 289.87 417.33 289.69 420 289.4 C422.07 289.17 424.13 288.5 426.2 288.5 C429.13 288.5 432.07 289 435 289 C437.07 289 439.13 288.81 441.2 288.5 C442.27 288.34 443.33 287.59 444.4 286.9 C445.63 286.11 446.87 283.5 448.1 283.5 C449.13 283.5 450.17 284.72 451.2 285 C453.5 285.63 455.8 286.2 458.1 286.2 C459.13 286.2 460.17 285.25 461.2 284.4 C462.47 283.36 463.73 279.32 465 278.7 C465.63 278.39 466.27 278.1 466.9 278.1 C468.33 278.1 469.77 278.1 471.2 278.1 C472.47 278.1 473.73 276.68 475 275.6 C476.47 274.35 477.93 272.19 479.4 270.2 C480.77 268.35 482.13 267.01 483.5 264 C484.2 262.46 484.9 259.41 485.6 256.7 C485.97 255.28 486.33 253.91 486.7 252 C487.03 250.27 487.37 245.4 487.7 245.4 C490.3 245.4 492.9 245.4 495.5 245.4 C496.03 245.4 496.57 248.55 497.1 250.4 C497.8 252.83 498.5 256.45 499.2 258.7 C499.53 259.77 499.87 260.68 500.2 261.5 C500.9 263.23 501.6 264.59 502.3 266 C503 267.41 503.7 268.79 504.4 270 C505.1 271.21 505.8 272.22 506.5 273.3 C507.53 274.9 508.57 276.97 509.6 278 C510.3 278.7 511 278.86 511.7 279.6 C512.73 280.69 513.77 283.73 514.8 285.5 C515.37 286.47 515.93 288.2 516.5 288.2 C517.33 288.2 518.17 281.7 519 281.7 C520.73 281.7 522.47 284.02 524.2 284.8 C526.13 285.67 528.07 286.24 530 286.9 C531.67 287.47 533.33 288.14 535 288.5 C536.67 288.86 538.33 289.3 540 289.3 C542.5 289.3 545 289.21 547.5 289 C548.75 288.9 550 287.96 551.25 286.9 C552.08 286.2 552.92 284.17 553.75 283.1 C554.5 282.14 555.25 280.6 556 280.6 C556.5 280.6 557 282.31 557.5 283.1 C557.92 283.76 558.33 285 558.75 285 C559.17 285 559.58 283.6 560 283.6 C561.03 283.6 562.07 285.22 563.1 285.6 C563.93 285.9 564.77 286.25 565.6 286.25 C566.23 286.25 566.87 282.92 567.5 281.25 C568.13 279.58 568.77 277.3 569.4 276.25 C569.8 275.59 570.2 274.75 570.6 274.75 C571.23 274.75 571.87 276.39 572.5 276.9 C573.13 277.41 573.77 277.55 574.4 278.1 C575.02 278.63 575.63 280.6 576.25 280.6 C576.6 280.6 576.95 278.55 577.3 277 C577.5 276.12 577.7 273.5 577.9 273.5 C578.07 273.5 578.23 275.41 578.4 277 C578.52 278.11 578.63 281.63 578.75 281.9 C579.37 283.33 579.98 283.75 580.6 283.75 C581.65 283.75 582.7 280.6 583.75 280.6 C584.37 280.6 584.98 283.23 585.6 284.4 C586.43 285.98 587.27 288.46 588.1 288.75 C589.07 289.09 590.03 289.3 591 289.3 C592.33 289.3 593.67 289.26 595 289.2 C595.67 289.17 596.33 288.92 597 288.8 C598 288.62 599 288.3 600 288.3 C601 288.3 602 288.6 603 288.8 C603.67 288.94 604.33 289.3 605 289.3 C605.6 289.3 606.2 289.02 606.8 288 C606.93 287.77 607.07 284 607.2 282 C607.3 280.5 607.4 277.5 607.5 277.5 C607.6 277.5 607.7 281.29 607.8 282 C607.97 283.19 608.13 283.83 608.3 284.2 C608.87 285.46 609.43 286.05 610 286.4 C610.57 286.75 611.13 287.1 611.7 287.1 C612.3 287.1 612.9 286.8 613.5 286.5 C614 286.25 614.5 285.58 615 285 C615.6 284.31 616.2 282.5 616.8 282.5 C617.3 282.5 617.8 285.77 618.3 286.7 C618.6 287.26 618.9 288 619.2 288 C619.53 288 619.87 287.6 620.2 287.6 C620.63 287.6 621.07 288.67 621.5 289 C621.83 289.25 622.17 289.6 622.5 289.6 C623.33 289.6 624.17 289.6 625 289.6 C625.5 289.6 626 289.12 626.5 288.5 C626.83 288.09 627.17 285.4 627.5 285.4 C627.83 285.4 628.17 288.12 628.5 288.5 C629 289.07 629.5 289.45 630 289.5 C631.33 289.64 632.67 289.7 634 289.7 C634.9 289.7 635.8 289.3 636.7 289.3 C637.3 289.3 637.9 289.78 638.5 289.8 C640.67 289.88 642.83 289.87 645 289.9 L645 290.2 C642.83 290.23 640.67 290.22 638.5 290.3 C637.9 290.32 637.3 290.8 636.7 290.8 C635.8 290.8 634.9 290.4 634 290.4 C632.67 290.4 631.33 290.46 630 290.6 C629.5 290.65 629 291.15 628.5 291.8 C628.17 292.23 627.83 294.6 627.5 294.6 C627.17 294.6 626.83 292.23 626.5 291.8 C626 291.15 625.5 290.6 625 290.6 C624.17 290.6 623.33 290.67 622.5 290.8 C622.17 290.85 621.83 291.14 621.5 291.4 C621.07 291.74 620.63 293 620.2 293 C619.87 293 619.53 292.5 619.2 292.5 C618.9 292.5 618.6 293.59 618.3 294.2 C617.8 295.21 617.3 297.5 616.8 297.5 C616.2 297.5 615.6 295.32 615 295 C614.5 294.74 614 294.68 613.5 294.5 C612.9 294.28 612.3 293.75 611.7 293.75 C611.13 293.75 610.57 293.87 610 294 C609.43 294.13 608.87 294.29 608.3 295 C608.13 295.21 607.97 296.52 607.8 298 C607.7 298.89 607.6 302.5 607.5 302.5 C607.4 302.5 607.3 299.44 607.2 298 C607.07 296.08 606.93 292.79 606.8 292.5 C606.2 291.2 605.6 290.8 605 290.8 C604.33 290.8 603.67 291.09 603 291.2 C602 291.36 601 291.6 600 291.6 C599 291.6 598 291.36 597 291.2 C596.33 291.09 595.67 290.83 595 290.8 C593.67 290.74 592.33 290.7 591 290.7 C590.03 290.7 589.07 291.05 588.1 291.5 C587.27 291.89 586.43 293.85 585.6 295 C584.98 295.85 584.37 297.5 583.75 297.5 C582.7 297.5 581.65 295.6 580.6 295.6 C579.98 295.6 579.37 296.65 578.75 298.75 C578.63 299.15 578.52 301.25 578.4 302 C578.23 303.07 578.07 304.4 577.9 304.4 C577.67 304.4 577.43 302.17 577.2 302 C576.47 301.47 575.73 301.25 575 301.25 C574.17 301.25 573.33 303.75 572.5 303.75 C571.67 303.75 570.83 303.49 570 303.1 C569.17 302.71 568.33 299.24 567.5 297.5 C566.87 296.17 566.23 293.75 565.6 293.75 C564.9 293.75 564.2 294.62 563.5 295 C562.67 295.45 561.83 296.25 561 296.25 C560.25 296.25 559.5 295 558.75 295 C557.83 295 556.92 298.1 556 298.1 C555.25 298.1 554.5 296.99 553.75 296.25 C552.92 295.42 552.08 293.76 551.25 293.1 C550 292.11 548.75 291.07 547.5 291 C545 290.86 542.5 290.8 540 290.8 C538.33 290.8 536.67 291.15 535 291.5 C533.33 291.85 531.67 292.93 530 293.5 C528.07 294.16 526.13 294.44 524.2 295.2 C522.47 295.89 520.73 298.3 519 298.3 C518.17 298.3 517.33 292 516.5 292 C515.93 292 515.37 293.35 514.8 294.2 C513.77 295.75 512.73 298.52 511.7 300 C511 301 510.3 301.9 509.6 302.5 C508.57 303.38 507.53 303.66 506.5 304.5 C505.8 305.07 505.1 305.88 504.4 306.7 C503.7 307.52 503 308.48 502.3 309.5 C501.6 310.52 500.9 311.07 500.2 312.9 C499.87 313.77 499.53 316.83 499.2 318 C498.5 320.46 497.8 320.7 497.1 323.3 C496.57 325.28 496.03 333.7 495.5 333.7 C492.9 333.7 490.3 333.7 487.7 333.7 C487.37 333.7 487.03 325.51 486.7 323.3 C486.33 320.87 485.97 319.23 485.6 318 C484.9 315.66 484.2 314.24 483.5 312.9 C482.13 310.29 480.77 308.69 479.4 306.7 C477.93 304.56 476.47 300.5 475 300.5 C473.73 300.5 472.47 300.88 471.2 301.2 C469.77 301.56 468.33 302.44 466.9 303 C466.27 303.25 465.63 303.7 465 303.7 C463.73 303.7 462.47 299.44 461.2 298.7 C460.17 298.09 459.13 297.66 458.1 297.5 C455.8 297.14 453.5 296.9 451.2 296.9 C450.17 296.9 449.13 298.1 448.1 298.1 C446.87 298.1 445.63 295.11 444.4 294.4 C443.33 293.79 442.27 293.34 441.2 293.1 C439.13 292.63 437.07 292.2 435 292.2 C432.07 292.2 429.13 292.2 426.2 292.2 C424.13 292.2 422.07 290.94 420 290.7 C417.33 290.39 414.67 290.3 412 290.1 Z"/></clipPath>
<g clip-path="url(#bp2)"><rect x="412" y="285" width="0.65" height="7.17" fill="#515151"/><rect x="412" y="292.12" width="0.65" height="2.93" fill="#636363"/><rect x="412.6" y="285" width="0.65" height="0.77" fill="#717171"/><rect x="412.6" y="285.72" width="0.65" height="9.33" fill="#7b7b7b"/><rect x="413.2" y="285" width="0.65" height="9.14" fill="#575757"/><rect x="413.2" y="294.09" width="0.65" height="0.96" fill="#5b5b5b"/><rect x="413.8" y="285" width="0.55" height="10.04" fill="#373737"/><rect x="413.8" y="294.99" width="0.55" height="0.06" fill="#030303"/><rect x="414.3" y="285" width="0.65" height="2.44" fill="#3f3f3f"/><rect x="414.3" y="287.39" width="0.65" height="7.66" fill="#565656"/><rect x="414.9" y="285" width="0.45" height="3.27" fill="#4e4e4e"/><rect x="414.9" y="288.22" width="0.45" height="6.83" fill="#545454"/><rect x="415.3" y="285" width="0.65" height="3.8" fill="#4f4f4f"/><rect x="415.3" y="288.75" width="0.65" height="6.3" fill="#5b5b5b"/><rect x="415.9" y="285" width="0.45" height="2.8" fill="#494949"/><rect x="415.9" y="287.75" width="0.45" height="7.3" fill="#3a3a3a"/><rect x="416.3" y="285" width="0.55" height="7.64" fill="#3d3d3d"/><rect x="416.3" y="292.59" width="0.55" height="2.46" fill="#4f4f4f"/><rect x="416.8" y="285" width="0.55" height="6.28" fill="#5b5b5b"/><rect x="416.8" y="291.23" width="0.55" height="3.82" fill="#464646"/><rect x="417.3" y="285" width="0.45" height="5.76" fill="#0e0e0e"/><rect x="417.3" y="290.71" width="0.45" height="4.34" fill="#474747"/><rect x="417.7" y="285" width="0.55" height="2.7" fill="#555555"/><rect x="417.7" y="287.65" width="0.55" height="7.4" fill="#020202"/><rect x="418.2" y="285" width="0.65" height="6.23" fill="#080808"/><rect x="418.2" y="291.18" width="0.65" height="3.87" fill="#4f4f4f"/><rect x="418.8" y="285" width="0.65" height="9.75" fill="#545454"/><rect x="418.8" y="294.7" width="0.65" height="0.35" fill="#101010"/><rect x="419.4" y="285" width="0.55" height="9.3" fill="#414141"/><rect x="419.4" y="294.25" width="0.55" height="0.8" fill="#6a6a6a"/><rect x="419.9" y="285" width="0.55" height="3.34" fill="#373737"/><rect x="419.9" y="288.29" width="0.55" height="6.76" fill="#505050"/><rect x="420.4" y="285" width="0.85" height="9.41" fill="#656565"/><rect x="420.4" y="294.36" width="0.85" height="0.69" fill="#3a3a3a"/><rect x="421.2" y="285" width="0.85" height="7.06" fill="#545454"/><rect x="421.2" y="292.01" width="0.85" height="3.04" fill="#070707"/><rect x="422" y="285" width="0.55" height="5.17" fill="#737373"/><rect x="422" y="290.12" width="0.55" height="4.93" fill="#6d6d6d"/><rect x="422.5" y="285" width="0.45" height="9.31" fill="#494949"/><rect x="422.5" y="294.26" width="0.45" height="0.79" fill="#505050"/><rect x="422.9" y="285" width="0.45" height="2.26" fill="#383838"/><rect x="422.9" y="287.21" width="0.45" height="7.84" fill="#0f0f0f"/><rect x="423.3" y="285" width="0.85" height="0.6" fill="#686868"/><rect x="423.3" y="285.55" width="0.85" height="9.5" fill="#0d0d0d"/><rect x="424.1" y="285" width="0.85" height="8.49" fill="#3d3d3d"/><rect x="424.1" y="293.44" width="0.85" height="1.61" fill="#363636"/><rect x="424.9" y="285" width="0.65" height="3.39" fill="#131313"/><rect x="424.9" y="288.34" width="0.65" height="6.71" fill="#060606"/><rect x="425.5" y="285" width="0.65" height="6.69" fill="#494949"/><rect x="425.5" y="291.64" width="0.65" height="3.41" fill="#787878"/><rect x="426.1" y="285" width="0.65" height="3.09" fill="#777777"/><rect x="426.1" y="288.04" width="0.65" height="7.01" fill="#040404"/><rect x="426.7" y="285" width="0.45" height="2.13" fill="#666666"/><rect x="426.7" y="287.08" width="0.45" height="7.97" fill="#666666"/><rect x="427.1" y="285" width="0.55" height="3.71" fill="#121212"/><rect x="427.1" y="288.66" width="0.55" height="6.39" fill="#060606"/><rect x="427.6" y="285" width="0.45" height="4.14" fill="#5f5f5f"/><rect x="427.6" y="289.09" width="0.45" height="5.96" fill="#474747"/><rect x="428" y="285" width="0.65" height="2.06" fill="#424242"/><rect x="428" y="287.01" width="0.65" height="8.04" fill="#626262"/><rect x="428.6" y="285" width="0.85" height="2.09" fill="#111111"/><rect x="428.6" y="287.04" width="0.85" height="8.01" fill="#111111"/><rect x="429.4" y="285" width="0.85" height="1.85" fill="#7b7b7b"/><rect x="429.4" y="286.8" width="0.85" height="8.25" fill="#727272"/><rect x="430.2" y="285" width="0.65" height="8.07" fill="#0f0f0f"/><rect x="430.2" y="293.02" width="0.65" height="2.03" fill="#6b6b6b"/><rect x="430.8" y="285" width="0.85" height="1" fill="#707070"/><rect x="430.8" y="285.95" width="0.85" height="9.1" fill="#535353"/><rect x="431.6" y="285" width="0.65" height="7.11" fill="#555555"/><rect x="431.6" y="292.06" width="0.65" height="2.99" fill="#777777"/><rect x="432.2" y="285" width="0.55" height="0.47" fill="#040404"/><rect x="432.2" y="285.42" width="0.55" height="9.63" fill="#606060"/><rect x="432.7" y="285" width="0.55" height="3.15" fill="#464646"/><rect x="432.7" y="288.1" width="0.55" height="6.95" fill="#434343"/><rect x="433.2" y="285" width="0.55" height="3.97" fill="#343434"/><rect x="433.2" y="288.92" width="0.55" height="6.13" fill="#0a0a0a"/><rect x="433.7" y="285" width="0.45" height="2.03" fill="#060606"/><rect x="433.7" y="286.98" width="0.45" height="8.07" fill="#070707"/><rect x="434.1" y="285" width="0.55" height="10.01" fill="#7d7d7d"/><rect x="434.1" y="294.96" width="0.55" height="0.09" fill="#494949"/><rect x="434.6" y="285" width="0.85" height="8.94" fill="#050505"/><rect x="434.6" y="293.89" width="0.85" height="1.16" fill="#4a4a4a"/><rect x="435.4" y="285" width="0.45" height="2.06" fill="#575757"/><rect x="435.4" y="287.01" width="0.45" height="8.04" fill="#6f6f6f"/><rect x="435.8" y="285" width="0.65" height="0.37" fill="#616161"/><rect x="435.8" y="285.32" width="0.65" height="9.73" fill="#4d4d4d"/><rect x="436.4" y="285" width="0.65" height="0.55" fill="#4c4c4c"/><rect x="436.4" y="285.5" width="0.65" height="9.55" fill="#454545"/><rect x="437" y="285" width="0.55" height="1.15" fill="#747474"/><rect x="437" y="286.1" width="0.55" height="8.95" fill="#6b6b6b"/><rect x="437.5" y="285" width="0.45" height="7.93" fill="#616161"/><rect x="437.5" y="292.88" width="0.45" height="2.17" fill="#343434"/><rect x="437.9" y="285" width="0.45" height="4.18" fill="#696969"/><rect x="437.9" y="289.13" width="0.45" height="5.92" fill="#0e0e0e"/><rect x="438.3" y="285" width="0.55" height="3.64" fill="#000000"/><rect x="438.3" y="288.59" width="0.55" height="6.46" fill="#656565"/><rect x="438.8" y="285" width="0.65" height="1.54" fill="#393939"/><rect x="438.8" y="286.49" width="0.65" height="8.56" fill="#3b3b3b"/><rect x="439.4" y="285" width="0.45" height="3.29" fill="#454545"/><rect x="439.4" y="288.24" width="0.45" height="6.81" fill="#121212"/><rect x="439.8" y="285" width="0.65" height="4.09" fill="#040404"/><rect x="439.8" y="289.04" width="0.65" height="6.01" fill="#777777"/><rect x="440.4" y="285" width="0.45" height="0.2" fill="#7d7d7d"/><rect x="440.4" y="285.15" width="0.45" height="9.9" fill="#717171"/><rect x="440.8" y="285" width="0.55" height="0.92" fill="#3f3f3f"/><rect x="440.8" y="285.87" width="0.55" height="9.18" fill="#818181"/><rect x="441.3" y="285" width="0.45" height="2.97" fill="#0b0b0b"/><rect x="441.3" y="287.92" width="0.45" height="7.13" fill="#444444"/><rect x="441.7" y="285" width="0.45" height="8.26" fill="#373737"/><rect x="441.7" y="293.21" width="0.45" height="1.84" fill="#0f0f0f"/><rect x="442.1" y="285" width="0.55" height="8.2" fill="#4d4d4d"/><rect x="442.1" y="293.15" width="0.55" height="1.9" fill="#565656"/><rect x="442.6" y="285" width="0.45" height="3.22" fill="#7c7c7c"/><rect x="442.6" y="288.17" width="0.45" height="6.88" fill="#343434"/><rect x="443" y="285" width="0.55" height="7.39" fill="#060606"/><rect x="443" y="292.34" width="0.55" height="2.71" fill="#040404"/><rect x="443.5" y="285" width="0.65" height="7.14" fill="#111111"/><rect x="443.5" y="292.09" width="0.65" height="2.96" fill="#353535"/></g>
<g clip-path="url(#bp2)"><rect x="446" y="293" width="0.65" height="7.31" fill="#5c5c5c"/><rect x="446" y="300.26" width="0.65" height="0.79" fill="#353535"/><rect x="446.6" y="293" width="0.65" height="6.34" fill="#2e2e2e"/><rect x="446.6" y="299.29" width="0.65" height="1.76" fill="#131313"/><rect x="447.2" y="293" width="0.85" height="1.13" fill="#616161"/><rect x="447.2" y="294.08" width="0.85" height="6.97" fill="#676767"/><rect x="448" y="293" width="0.55" height="3.53" fill="#616161"/><rect x="448" y="296.48" width="0.55" height="4.57" fill="#131313"/><rect x="448.5" y="293" width="0.45" height="0.59" fill="#5e5e5e"/><rect x="448.5" y="293.54" width="0.45" height="7.51" fill="#5c5c5c"/><rect x="448.9" y="293" width="0.55" height="1.63" fill="#090909"/><rect x="448.9" y="294.58" width="0.55" height="6.47" fill="#676767"/><rect x="449.4" y="293" width="0.45" height="3.19" fill="#5e5e5e"/><rect x="449.4" y="296.14" width="0.45" height="4.91" fill="#575757"/><rect x="449.8" y="293" width="0.85" height="3.3" fill="#2e2e2e"/><rect x="449.8" y="296.25" width="0.85" height="4.8" fill="#0b0b0b"/><rect x="450.6" y="293" width="0.85" height="6.39" fill="#000000"/><rect x="450.6" y="299.34" width="0.85" height="1.71" fill="#2f2f2f"/><rect x="451.4" y="293" width="0.85" height="3.34" fill="#0a0a0a"/><rect x="451.4" y="296.29" width="0.85" height="4.76" fill="#090909"/><rect x="452.2" y="293" width="0.45" height="2.39" fill="#0e0e0e"/><rect x="452.2" y="295.34" width="0.45" height="5.71" fill="#464646"/><rect x="452.6" y="293" width="0.55" height="1.02" fill="#101010"/><rect x="452.6" y="293.97" width="0.55" height="7.08" fill="#131313"/><rect x="453.1" y="293" width="0.65" height="1.39" fill="#404040"/><rect x="453.1" y="294.34" width="0.65" height="6.71" fill="#656565"/><rect x="453.7" y="293" width="0.65" height="4.05" fill="#6a6a6a"/><rect x="453.7" y="297" width="0.65" height="4.05" fill="#101010"/><rect x="454.3" y="293" width="0.55" height="3.18" fill="#282828"/><rect x="454.3" y="296.13" width="0.55" height="4.92" fill="#0b0b0b"/><rect x="454.8" y="293" width="0.65" height="5.94" fill="#575757"/><rect x="454.8" y="298.89" width="0.65" height="2.16" fill="#5b5b5b"/><rect x="455.4" y="293" width="0.85" height="1.13" fill="#080808"/><rect x="455.4" y="294.08" width="0.85" height="6.97" fill="#050505"/><rect x="456.2" y="293" width="0.65" height="2.94" fill="#565656"/><rect x="456.2" y="295.89" width="0.65" height="5.16" fill="#424242"/><rect x="456.8" y="293" width="0.45" height="7.31" fill="#131313"/><rect x="456.8" y="300.26" width="0.45" height="0.79" fill="#2b2b2b"/><rect x="457.2" y="293" width="0.45" height="4.51" fill="#474747"/><rect x="457.2" y="297.46" width="0.45" height="3.59" fill="#666666"/><rect x="457.6" y="293" width="0.85" height="0.33" fill="#131313"/><rect x="457.6" y="293.28" width="0.85" height="7.77" fill="#0b0b0b"/><rect x="458.4" y="293" width="0.45" height="8.03" fill="#343434"/><rect x="458.4" y="300.98" width="0.45" height="0.07" fill="#6c6c6c"/><rect x="458.8" y="293" width="0.55" height="2.38" fill="#131313"/><rect x="458.8" y="295.33" width="0.55" height="5.72" fill="#555555"/></g>
<path d="M418 403.6 C420 403.47 422 403.25 424 403.2 C429.33 403.07 434.67 403.13 440 403 C442.87 402.93 445.73 402.18 448.6 402 C451.73 401.8 454.87 401.65 458 401.6 C461 401.55 464 401.54 467 401.5 C471.33 401.44 475.67 401.2 480 401.2 C482 401.2 484 401.51 486 401.8 C487.53 402.03 489.07 403 490.6 403 C492.07 403 493.53 402.22 495 401.7 C496.67 401.11 498.33 399.5 500 399.5 C501.93 399.5 503.87 400.5 505.8 400.5 C507.77 400.5 509.73 398.82 511.7 397.5 C513.9 396.02 516.1 393.56 518.3 390.8 C519.7 389.05 521.1 385.74 522.5 384.2 C523.33 383.28 524.17 382 525 382 C526.1 382 527.2 383.74 528.3 385 C529.7 386.6 531.1 390.3 532.5 391.7 C534.43 393.63 536.37 394.65 538.3 395.8 C540.53 397.12 542.77 399.2 545 399.2 C546.3 399.2 547.6 399 548.9 399 C549.93 399 550.97 401.4 552 401.4 C552.53 401.4 553.07 399.98 553.6 399 C554.13 398.02 554.67 396.4 555.2 395.2 C555.7 394.08 556.2 393.27 556.7 392 C557.13 390.9 557.57 389.61 558 388 C558.33 386.76 558.67 385.47 559 383.4 C559.27 381.74 559.53 378.76 559.8 376 C560.07 373.24 560.33 366.6 560.6 366.6 C560.83 366.6 561.07 376.44 561.3 380 C561.6 384.58 561.9 388.87 562.2 391.25 C562.72 395.35 563.23 398.55 563.75 399.8 C564.27 401.05 564.78 402.08 565.3 402.2 C566.53 402.48 567.77 402.6 569 402.6 C570.37 402.6 571.73 401.4 573.1 401.4 C573.9 401.4 574.7 402.34 575.5 402.5 C576.27 402.66 577.03 402.8 577.8 402.8 C579.2 402.8 580.6 402.6 582 402.5 C583.47 402.4 584.93 402.2 586.4 402.2 C587.6 402.2 588.8 402.76 590 402.9 C591.67 403.09 593.33 403.23 595 403.3 C597.67 403.41 600.33 403.43 603 403.5 L603 403.8 C600.33 403.87 597.67 403.89 595 404 C593.33 404.07 591.67 404.24 590 404.4 C588.8 404.51 587.6 404.8 586.4 404.8 C584.93 404.8 583.47 404.67 582 404.6 C580.6 404.53 579.2 404.4 577.8 404.4 C577.03 404.4 576.27 404.49 575.5 404.6 C574.7 404.71 573.9 405.6 573.1 405.6 C571.73 405.6 570.37 404.96 569 404.8 C567.77 404.66 566.53 404.5 565.3 404.5 C564.78 404.5 564.27 405.84 563.75 406.9 C563.23 407.96 562.72 409.32 562.2 411.6 C561.9 412.92 561.6 415.16 561.3 418 C561.07 420.21 560.83 427.5 560.6 427.5 C560.33 427.5 560.07 419.91 559.8 418 C559.53 416.09 559.27 414.1 559 413.9 C558.67 413.64 558.33 413.68 558 413.5 C557.57 413.26 557.13 412.8 556.7 412.3 C556.2 411.73 555.7 410.77 555.2 410 C554.67 409.17 554.13 408.28 553.6 407.5 C553.07 406.72 552.53 405.3 552 405.3 C550.97 405.3 549.93 407.43 548.9 407.7 C547.6 408.04 546.3 408.01 545 408.3 C542.77 408.8 540.53 410.5 538.3 411.7 C536.37 412.74 534.43 413.28 532.5 415 C531.1 416.24 529.7 421.03 528.3 422.5 C527.2 423.65 526.1 425 525 425 C524.17 425 523.33 423.45 522.5 422.5 C521.1 420.9 519.7 418.36 518.3 416.7 C516.1 414.1 513.9 411.48 511.7 410 C509.73 408.68 507.77 407 505.8 407 C503.87 407 501.93 408.3 500 408.3 C498.33 408.3 496.67 406.42 495 405.8 C493.53 405.26 492.07 404.5 490.6 404.5 C489.07 404.5 487.53 405.31 486 405.5 C484 405.75 482 406 480 406 C475.67 406 471.33 406 467 406 C464 406 461 405.91 458 405.8 C454.87 405.69 451.73 405.28 448.6 405 C445.73 404.75 442.87 404.27 440 404.2 C434.67 404.07 429.33 404.13 424 404 C422 403.95 420 403.73 418 403.6 Z" fill="#000" />
<rect x="251.2" y="2.5" width="81.5" height="15.7" fill="#fff" stroke="#9a9a9a" stroke-width="0.9"/>
<path d="M259 10.19 H271.5" stroke="#8e8e8e" stroke-width="0.75"/>
<text x="280.5" y="14.4" font-size="11" fill="#111" stroke="#111" stroke-width="0.22">Generator</text>
<rect x="252.2" y="137.1" width="71.2" height="15.5" fill="#fff" stroke="#9a9a9a" stroke-width="0.9"/>
<path d="M260 144.69 H272.5" stroke="#8e8e8e" stroke-width="0.75"/>
<text data-one="25" clip-path="url(#nofoot)" x="281.5" y="149" font-size="11" fill="#111" stroke="#111" stroke-width="0.22">C-bowl1</text>
<rect x="245.4" y="249" width="82.9" height="15.4" fill="#fff" stroke="#9a9a9a" stroke-width="0.9"/>
<path d="M253.2 256.55 H265.7" stroke="#8e8e8e" stroke-width="0.75"/>
<text data-one="26" clip-path="url(#nofoot)" x="274.7" y="260.9" font-size="11" fill="#111" stroke="#111" stroke-width="0.22">BW-plate1</text>
<rect x="244.3" y="362.4" width="81.7" height="15.5" fill="#fff" stroke="#9a9a9a" stroke-width="0.9"/>
<path d="M252.1 370 H264.6" stroke="#8e8e8e" stroke-width="0.75"/>
<text data-one="27" clip-path="url(#nofoot)" x="273.6" y="374.3" font-size="11" fill="#111" stroke="#111" stroke-width="0.22">BW-bowl1</text>
<rect x="614.3" y="10" width="61.4" height="15.4" fill="#fff" stroke="#9a9a9a" stroke-width="0.9"/>
<path d="M622.1 17.55 H634.6" stroke="#8e8e8e" stroke-width="0.75"/>
<text data-one="28" clip-path="url(#nofoot)" x="643.6" y="21.9" font-size="11" fill="#111" stroke="#111" stroke-width="0.22">C-jar1</text>
<rect x="617.2" y="136.6" width="60.7" height="14.9" fill="#fff" stroke="#9a9a9a" stroke-width="0.9"/>
<path d="M625 143.9 H637.5" stroke="#8e8e8e" stroke-width="0.75"/>
<text x="646.5" y="148.5" font-size="11" fill="#111" stroke="#111" stroke-width="0.22">C-jar2</text>
<rect x="599.1" y="246.8" width="82.9" height="14.5" fill="#fff" stroke="#9a9a9a" stroke-width="0.9"/>
<path d="M606.9 253.91 H619.4" stroke="#8e8e8e" stroke-width="0.75"/>
<text x="628.4" y="258.7" font-size="11" fill="#111" stroke="#111" stroke-width="0.22">BW-plate2</text>
<rect x="595.6" y="361.8" width="82" height="15.3" fill="#fff" stroke="#9a9a9a" stroke-width="0.9"/>
<path d="M603.4 369.3 H615.9" stroke="#8e8e8e" stroke-width="0.75"/>
<text x="624.9" y="373.7" font-size="11" fill="#111" stroke="#111" stroke-width="0.22">BW-bowl2</text>
<path d="M121.6 243.9H171.3V260.8H121.6" fill="none" stroke="#dc1f26" stroke-width="1.5" stroke-dasharray="4.8 5.35"/><path d="M121.6 243.9V260.8" fill="none" stroke="#dc1f26" stroke-width="1.5" stroke-dasharray="4.8 5.35"/>
<path d="M110.7 309H171.2V334H110.7" fill="none" stroke="#dc1f26" stroke-width="1.5" stroke-dasharray="4.8 5.35"/><path d="M110.7 309V334" fill="none" stroke="#dc1f26" stroke-width="1.5" stroke-dasharray="4.8 5.35"/>
<path d="M486.6 15.3H509.6V37.5H486.6" fill="none" stroke="#dc1f26" stroke-width="1.5" stroke-dasharray="4.8 5.35"/><path d="M486.6 15.3V37.5" fill="none" stroke="#dc1f26" stroke-width="1.5" stroke-dasharray="4.8 5.35"/>
<path d="M483.75 80.4H512.3V105.6H483.75" fill="none" stroke="#dc1f26" stroke-width="1.5" stroke-dasharray="4.8 5.35"/><path d="M483.75 80.4V105.6" fill="none" stroke="#dc1f26" stroke-width="1.5" stroke-dasharray="4.8 5.35"/>
<path d="M482.1 243.1H504.4V267.7H482.1" fill="none" stroke="#dc1f26" stroke-width="1.5" stroke-dasharray="4.8 5.35"/><path d="M482.1 243.1V267.7" fill="none" stroke="#dc1f26" stroke-width="1.5" stroke-dasharray="4.8 5.35"/>
<path d="M482.1 309.4H504.4V334.6H482.1" fill="none" stroke="#dc1f26" stroke-width="1.5" stroke-dasharray="4.8 5.35"/><path d="M482.1 309.4V334.6" fill="none" stroke="#dc1f26" stroke-width="1.5" stroke-dasharray="4.8 5.35"/>
<text x="42.3" y="254.4" font-size="10" fill="#df2229" stroke="#df2229" stroke-width="0.05">Signal saturation</text>
<text x="408" y="25.7" font-size="10" fill="#df2229" stroke="#df2229" stroke-width="0.05">Signal saturation</text>
<text x="402.4" y="256.8" font-size="10" fill="#df2229" stroke="#df2229" stroke-width="0.05">Signal saturation</text>
<text transform="translate(10.8 237.5) rotate(-90)" text-anchor="middle" font-size="11.3" fill="#111" stroke="#111" stroke-width="0.22">Amplitude (dB)</text>
<text transform="translate(363.7 237.9) rotate(-90)" text-anchor="middle" font-size="11.3" fill="#111" stroke="#111" stroke-width="0.22">Amplitude (dB)</text>
<text x="176.6" y="474.8" text-anchor="middle" font-size="11.3" fill="#111" stroke="#111" stroke-width="0.22">Time (s)</text>
<text x="531.5" y="473.0" text-anchor="middle" font-size="11.3" fill="#111" stroke="#111" stroke-width="0.22">Time (s)</text>
</svg>
</body></html>
